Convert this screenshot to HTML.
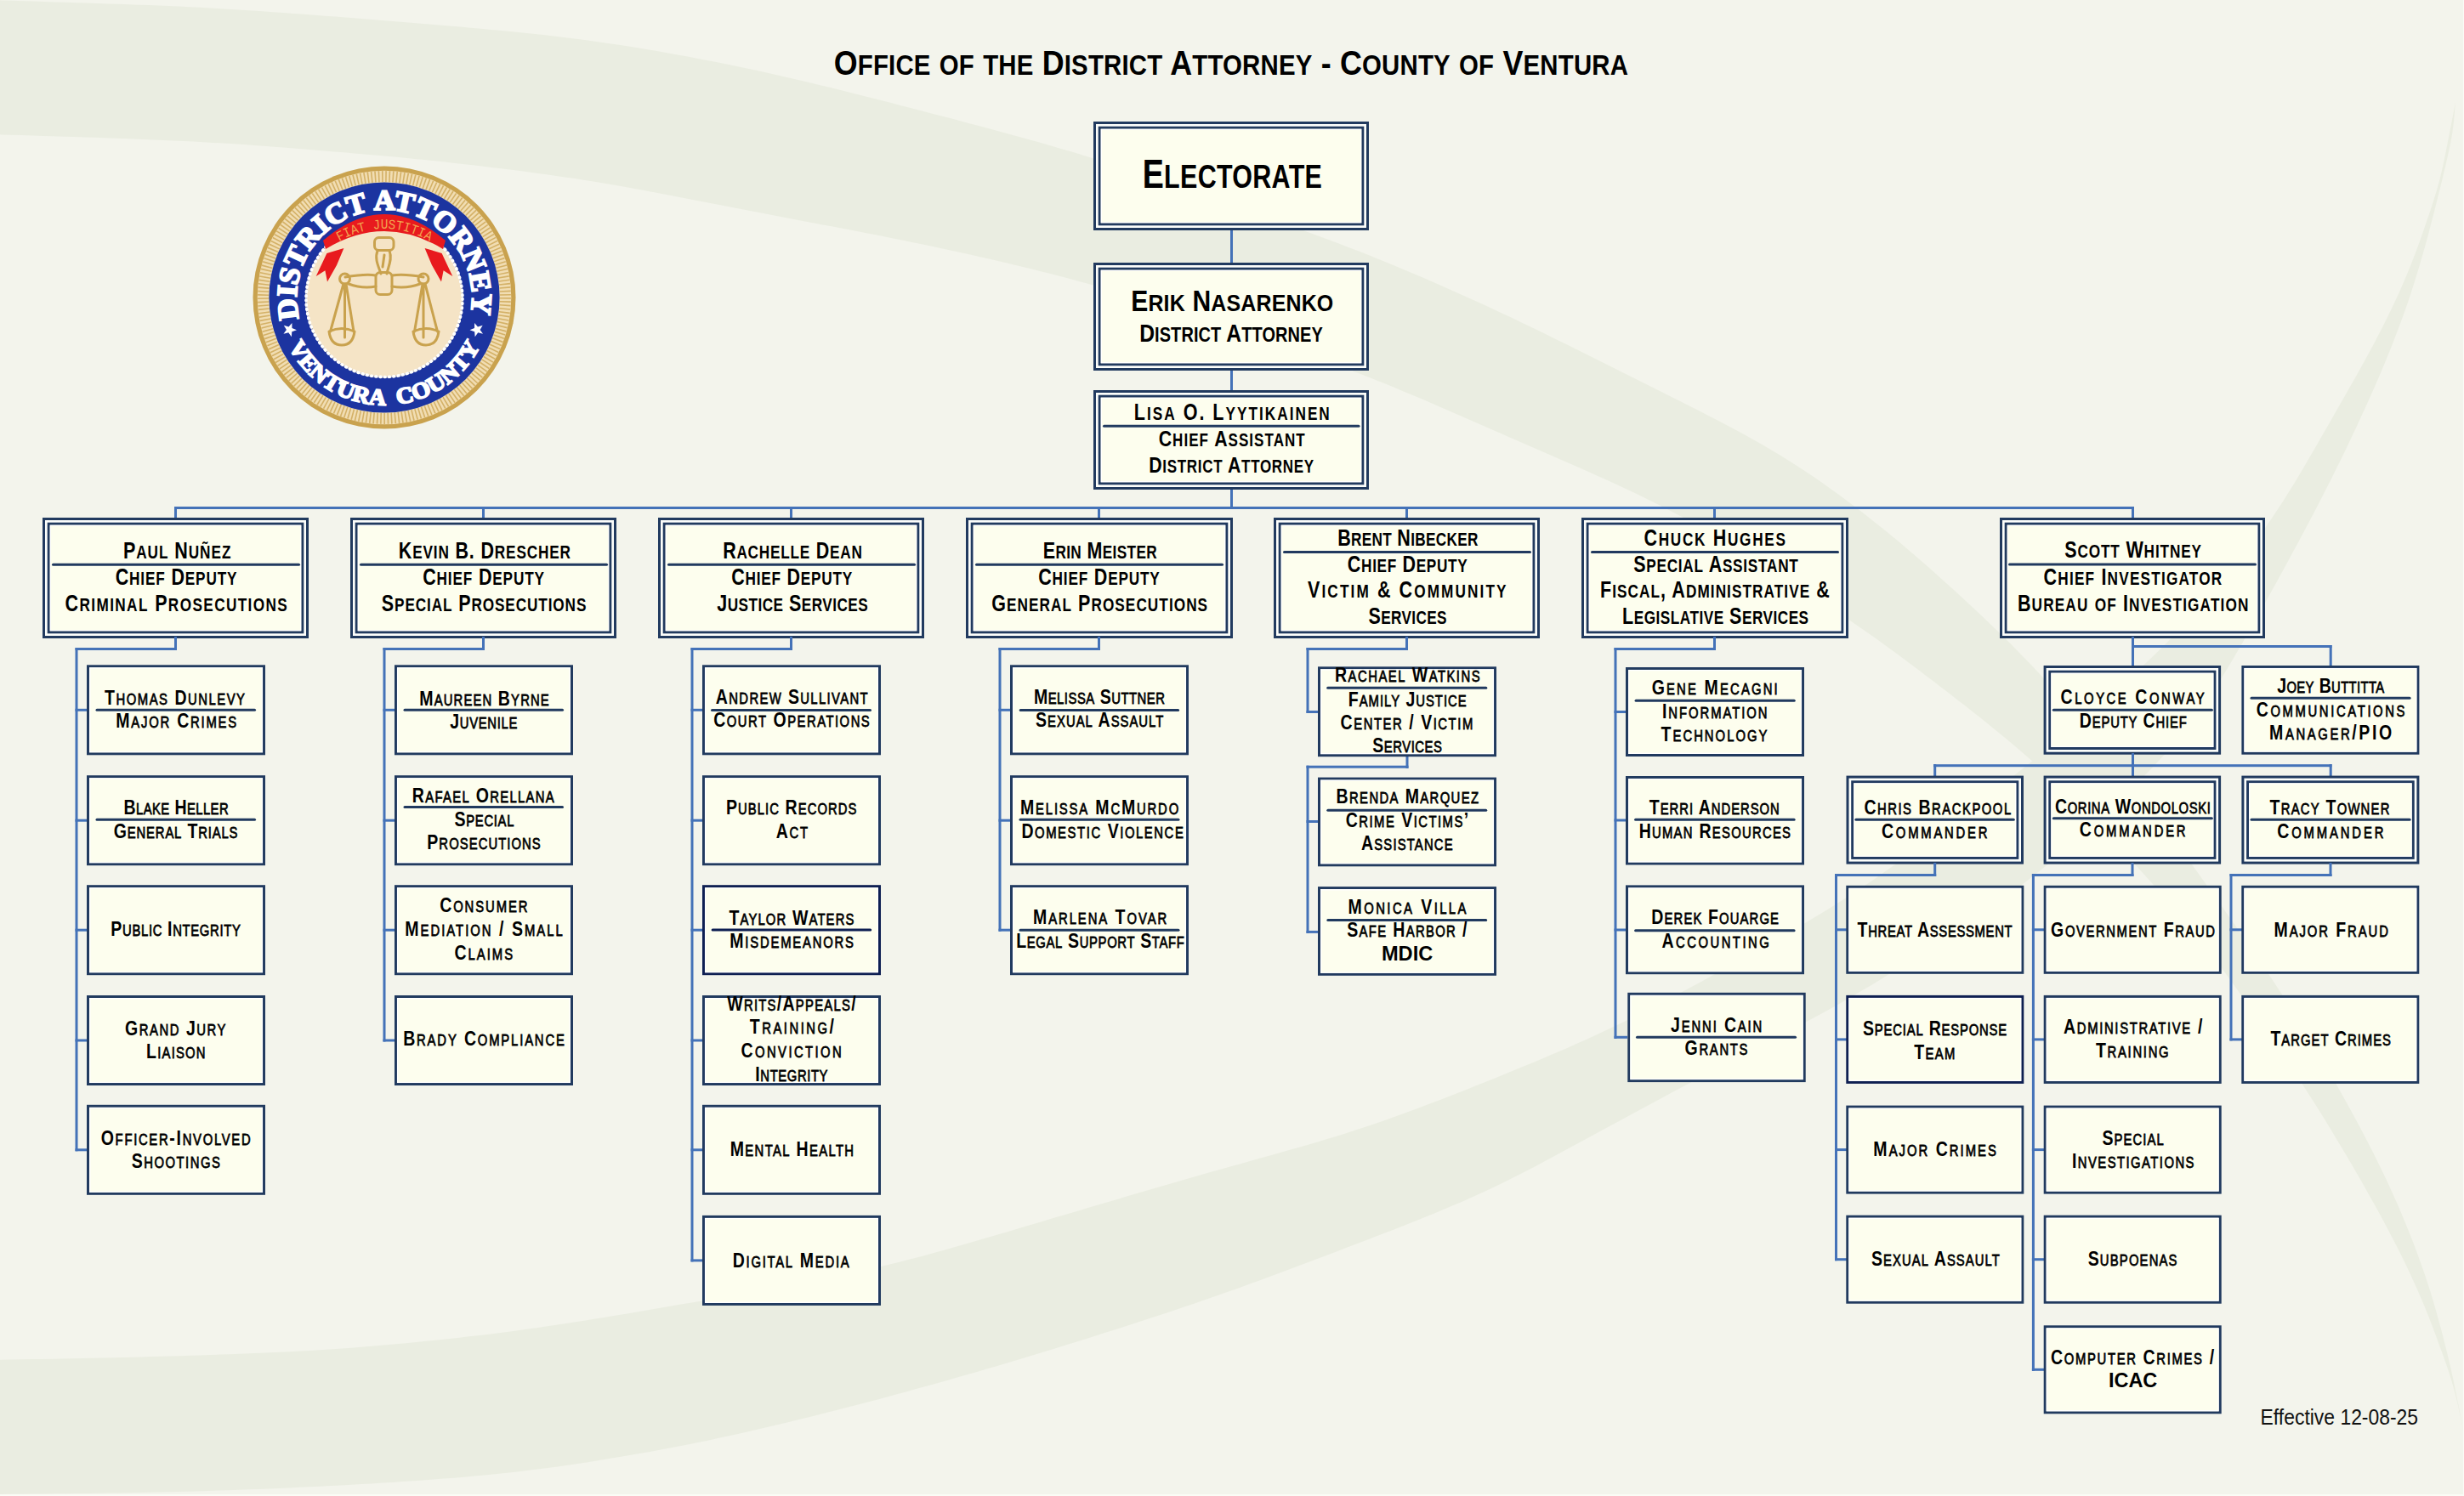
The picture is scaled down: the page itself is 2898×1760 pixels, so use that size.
<!DOCTYPE html>
<html><head><meta charset="utf-8"><title>Office of the District Attorney - County of Ventura</title>
<style>
html,body{margin:0;padding:0;background:#F3F4EC;overflow:hidden}
svg{display:block}
text{font-family:"Liberation Sans",sans-serif}
text.serif{font-family:"Liberation Serif",serif}
text.mono{font-family:"Liberation Mono",monospace}
</style></head><body>
<svg width="2898" height="1760" viewBox="0 0 2898 1760">
<rect x="0" y="0" width="2898" height="1760" fill="#F3F4EC"/>
<path d="M-10.0,0.0 L2.3,0.4 L14.7,0.8 L27.3,1.2 L39.8,1.6 L52.4,2.0 L65.0,2.4 L77.6,2.8 L90.2,3.2 L102.8,3.6 L115.4,4.0 L128.0,4.4 L139.8,4.8 L151.2,5.2 L162.9,5.7 L174.7,6.1 L186.7,6.6 L198.8,7.1 L211.0,7.6 L223.2,8.2 L235.4,8.8 L247.6,9.5 L259.9,10.2 L272.1,10.9 L284.3,11.7 L296.6,12.5 L308.8,13.3 L321.1,14.2 L333.3,15.0 L345.6,15.9 L357.8,16.8 L370.1,17.7 L382.3,18.7 L394.5,19.6 L406.8,20.5 L419.0,21.5 L431.2,22.5 L443.5,23.4 L455.7,24.4 L468.0,25.4 L480.2,26.4 L492.4,27.4 L504.7,28.4 L516.9,29.5 L529.1,30.5 L541.3,31.6 L553.6,32.7 L565.8,33.8 L578.0,35.0 L590.2,36.1 L602.4,37.3 L614.7,38.5 L626.9,39.8 L639.1,41.1 L651.3,42.5 L663.4,43.9 L675.6,45.4 L687.8,47.0 L699.9,48.7 L712.1,50.4 L724.2,52.2 L736.3,54.1 L748.4,56.0 L760.5,58.1 L772.6,60.1 L784.7,62.2 L796.8,64.4 L808.8,66.6 L820.9,68.9 L832.9,71.2 L845.0,73.6 L857.0,76.0 L869.0,78.5 L881.0,81.0 L893.0,83.6 L905.0,86.2 L917.0,88.9 L928.9,91.7 L940.9,94.5 L952.8,97.3 L964.7,100.2 L976.7,103.1 L988.6,106.1 L1000.5,109.1 L1012.4,112.1 L1024.3,115.1 L1036.2,118.1 L1048.1,121.1 L1060.0,124.2 L1071.9,127.2 L1083.7,130.3 L1095.6,133.4 L1107.5,136.5 L1119.4,139.6 L1131.2,142.8 L1143.1,145.9 L1155.0,149.1 L1166.8,152.2 L1178.7,155.4 L1190.5,158.7 L1202.4,161.9 L1214.2,165.2 L1226.0,168.5 L1237.8,171.9 L1249.6,175.4 L1261.3,178.8 L1273.1,182.4 L1284.8,186.0 L1296.5,189.7 L1308.2,193.4 L1319.9,197.2 L1331.5,201.0 L1343.2,204.9 L1354.8,208.8 L1366.4,212.7 L1378.0,216.7 L1389.6,220.7 L1401.2,224.7 L1412.8,228.7 L1424.4,232.8 L1436.0,236.8 L1447.6,240.9 L1459.2,244.9 L1470.8,249.0 L1482.3,253.0 L1493.9,257.1 L1505.5,261.2 L1517.1,265.3 L1528.6,269.5 L1540.1,273.7 L1551.7,277.9 L1563.2,282.2 L1574.6,286.5 L1586.1,290.9 L1597.5,295.3 L1608.9,299.8 L1620.3,304.4 L1631.7,309.0 L1643.0,313.7 L1654.3,318.5 L1665.6,323.2 L1676.9,328.1 L1688.2,333.0 L1699.4,337.9 L1710.6,342.9 L1721.8,347.9 L1733.0,353.0 L1744.2,358.1 L1755.3,363.2 L1766.4,368.4 L1777.5,373.6 L1788.6,378.9 L1799.7,384.2 L1810.7,389.6 L1821.7,395.0 L1832.7,400.4 L1843.7,405.8 L1854.7,411.3 L1865.7,416.7 L1876.7,422.2 L1887.7,427.7 L1898.7,433.2 L1909.6,438.7 L1920.6,444.2 L1931.6,449.7 L1942.6,455.2 L1953.6,460.7 L1964.5,466.2 L1975.5,471.7 L1986.4,477.2 L1997.4,482.8 L2008.3,488.4 L2019.2,494.0 L2030.0,499.7 L2040.9,505.4 L2051.6,511.3 L2062.3,517.2 L2072.9,523.3 L2083.5,529.4 L2094.0,535.7 L2104.3,542.2 L2114.6,548.8 L2124.9,555.5 L2135.0,562.3 L2145.0,569.3 L2155.0,576.4 L2164.9,583.6 L2174.7,590.9 L2184.5,598.3 L2194.2,605.8 L2203.8,613.4 L2213.4,621.0 L2222.9,628.8 L2232.4,636.6 L2241.7,644.4 L2251.1,652.4 L2260.3,660.4 L2269.6,668.5 L2278.7,676.7 L2287.8,684.9 L2296.9,693.1 L2306.0,701.4 L2315.0,709.7 L2323.9,718.1 L2332.8,726.5 L2341.7,735.0 L2350.5,743.5 L2359.3,752.1 L2368.0,760.7 L2376.5,769.5 L2385.1,778.3 L2393.5,787.1 L2401.8,796.1 L2410.0,805.2 L2418.1,814.3 L2426.2,823.6 L2434.1,832.9 L2442.0,842.3 L2449.8,851.7 L2457.6,861.2 L2465.3,870.7 L2473.0,880.3 L2480.7,889.9 L2488.3,899.5 L2495.9,909.1 L2503.5,918.8 L2511.0,928.5 L2518.5,938.1 L2526.0,947.9 L2533.5,957.6 L2541.0,967.4 L2548.4,977.1 L2555.7,987.0 L2563.0,996.8 L2570.3,1006.7 L2577.6,1016.6 L2584.8,1026.5 L2591.9,1036.5 L2599.1,1046.5 L2606.2,1056.5 L2613.3,1066.5 L2620.3,1076.5 L2627.4,1086.6 L2634.4,1096.6 L2641.4,1106.7 L2648.4,1116.8 L2655.3,1127.0 L2662.2,1137.1 L2669.0,1147.3 L2675.8,1157.5 L2682.5,1167.8 L2689.2,1178.1 L2695.8,1188.4 L2702.3,1198.8 L2708.7,1209.2 L2715.1,1219.7 L2721.4,1230.2 L2727.7,1240.8 L2733.8,1251.4 L2740.0,1262.0 L2746.1,1272.6 L2752.1,1283.3 L2758.1,1294.0 L2764.0,1304.8 L2769.9,1315.5 L2775.7,1326.3 L2781.4,1337.2 L2787.0,1348.0 L2792.6,1359.0 L2798.0,1369.9 L2803.4,1381.0 L2808.6,1392.0 L2813.7,1403.2 L2818.7,1414.3 L2823.5,1425.6 L2828.3,1436.9 L2832.9,1448.2 L2837.4,1459.6 L2841.7,1471.0 L2845.9,1482.5 L2850.0,1494.0 L2853.9,1505.5 L2857.6,1517.0 L2861.2,1528.5 L2864.5,1540.0 L2867.7,1551.4 L2870.7,1562.6 L2873.6,1573.6 L2876.5,1585.0 L2879.5,1597.2 L2882.4,1609.4 L2885.1,1621.7 L2887.6,1634.1 L2890.1,1646.4 L2892.6,1658.8 L2895.1,1671.1 L2897.6,1683.5 L2900.1,1695.8 L2902.6,1708.0 L2905.0,1720.0 L2905.0,1720.0 L2902.6,1708.4 L2900.2,1696.8 L2897.6,1684.7 L2895.2,1672.8 L2892.6,1660.9 L2890.0,1649.0 L2887.0,1637.2 L2883.7,1625.5 L2880.1,1614.0 L2876.2,1602.5 L2872.1,1591.0 L2868.0,1579.9 L2864.3,1569.7 L2860.4,1559.3 L2856.3,1548.7 L2852.0,1538.0 L2847.5,1527.3 L2842.8,1516.6 L2838.0,1505.9 L2833.1,1495.2 L2828.0,1484.6 L2822.8,1474.0 L2817.5,1463.4 L2812.0,1452.9 L2806.5,1442.4 L2800.9,1432.0 L2795.2,1421.6 L2789.4,1411.2 L2783.6,1400.9 L2777.8,1390.6 L2771.8,1380.3 L2765.9,1370.0 L2759.9,1359.8 L2753.8,1349.6 L2747.7,1339.4 L2741.6,1329.3 L2735.4,1319.1 L2729.2,1309.1 L2722.9,1299.0 L2716.5,1289.0 L2710.1,1279.0 L2703.6,1269.1 L2697.1,1259.2 L2690.5,1249.3 L2683.9,1239.5 L2677.2,1229.7 L2670.5,1219.9 L2663.7,1210.1 L2657.0,1200.4 L2650.2,1190.7 L2643.3,1181.0 L2636.4,1171.3 L2629.5,1161.7 L2622.6,1152.1 L2615.5,1142.5 L2608.5,1133.0 L2601.3,1123.6 L2594.1,1114.2 L2586.8,1104.8 L2579.4,1095.6 L2571.9,1086.4 L2564.4,1077.3 L2556.7,1068.3 L2549.0,1059.3 L2541.2,1050.4 L2533.3,1041.5 L2525.4,1032.7 L2517.4,1023.9 L2509.4,1015.2 L2501.3,1006.5 L2493.3,997.8 L2485.1,989.1 L2477.0,980.5 L2468.8,971.9 L2460.6,963.4 L2452.3,954.9 L2444.0,946.5 L2435.6,938.1 L2427.1,929.8 L2418.6,921.6 L2410.0,913.5 L2401.3,905.5 L2392.5,897.5 L2383.7,889.7 L2374.7,881.9 L2365.7,874.3 L2356.6,866.7 L2347.4,859.2 L2338.2,851.7 L2329.0,844.3 L2319.7,837.0 L2310.3,829.6 L2301.0,822.4 L2291.6,815.1 L2282.2,807.9 L2272.8,800.6 L2263.3,793.5 L2253.9,786.3 L2244.4,779.2 L2234.9,772.1 L2225.3,765.1 L2215.7,758.1 L2206.1,751.1 L2196.4,744.3 L2186.7,737.5 L2176.9,730.8 L2167.1,724.1 L2157.3,717.5 L2147.4,710.9 L2137.5,704.5 L2127.5,698.0 L2117.5,691.6 L2107.5,685.2 L2097.5,678.9 L2087.4,672.6 L2077.3,666.3 L2067.3,660.1 L2057.1,653.9 L2047.0,647.7 L2036.8,641.6 L2026.7,635.6 L2016.4,629.6 L2006.2,623.7 L1995.9,617.8 L1985.5,612.1 L1975.1,606.4 L1964.6,600.9 L1954.1,595.5 L1943.5,590.2 L1932.9,584.9 L1922.2,579.8 L1911.5,574.7 L1900.8,569.8 L1890.0,564.8 L1879.2,560.0 L1868.3,555.1 L1857.5,550.3 L1846.6,545.6 L1835.7,540.8 L1824.9,536.0 L1814.0,531.3 L1803.1,526.5 L1792.2,521.8 L1781.4,517.0 L1770.5,512.3 L1759.6,507.5 L1748.7,502.8 L1737.9,498.0 L1727.0,493.2 L1716.1,488.5 L1705.2,483.7 L1694.3,479.0 L1683.5,474.3 L1672.6,469.6 L1661.6,465.0 L1650.7,460.4 L1639.7,455.8 L1628.8,451.3 L1617.8,446.9 L1606.7,442.6 L1595.7,438.3 L1584.6,434.1 L1573.5,429.9 L1562.3,425.9 L1551.2,421.9 L1540.0,417.9 L1528.8,414.0 L1517.6,410.2 L1506.3,406.3 L1495.1,402.5 L1483.8,398.8 L1472.6,395.0 L1461.3,391.3 L1450.0,387.5 L1438.8,383.8 L1427.5,380.1 L1416.2,376.4 L1404.9,372.7 L1393.7,369.0 L1382.4,365.3 L1371.1,361.7 L1359.8,358.0 L1348.5,354.5 L1337.2,350.9 L1325.8,347.4 L1314.5,344.0 L1303.1,340.6 L1291.7,337.3 L1280.3,334.0 L1268.9,330.9 L1257.4,327.8 L1246.0,324.7 L1234.5,321.8 L1223.0,318.9 L1211.5,316.0 L1199.9,313.2 L1188.4,310.5 L1176.8,307.7 L1165.3,305.1 L1153.7,302.4 L1142.1,299.8 L1130.6,297.2 L1119.0,294.7 L1107.4,292.2 L1095.8,289.7 L1084.1,287.3 L1072.5,284.9 L1060.9,282.5 L1049.2,280.2 L1037.6,277.8 L1026.0,275.6 L1014.3,273.3 L1002.6,271.1 L991.0,268.8 L979.3,266.6 L967.7,264.4 L956.0,262.2 L944.3,260.0 L932.7,257.8 L921.0,255.6 L909.4,253.3 L897.7,251.1 L886.0,248.8 L874.4,246.6 L862.7,244.3 L851.1,242.1 L839.4,239.8 L827.8,237.5 L816.1,235.2 L804.5,233.0 L792.8,230.7 L781.2,228.5 L769.5,226.3 L757.8,224.1 L746.2,221.9 L734.5,219.8 L722.8,217.8 L711.1,215.8 L699.4,213.8 L687.7,212.0 L676.0,210.1 L664.3,208.4 L652.5,206.7 L640.8,205.0 L629.0,203.4 L617.2,201.8 L605.5,200.3 L593.7,198.8 L581.9,197.4 L570.1,195.9 L558.4,194.6 L546.6,193.2 L534.8,191.9 L523.0,190.6 L511.2,189.3 L499.4,188.1 L487.6,186.9 L475.7,185.7 L463.9,184.6 L452.1,183.5 L440.3,182.4 L428.5,181.4 L416.6,180.4 L404.8,179.3 L393.0,178.4 L381.2,177.4 L369.3,176.4 L357.5,175.5 L345.7,174.5 L333.8,173.6 L322.0,172.7 L310.2,171.8 L298.3,170.9 L286.5,170.1 L274.6,169.3 L262.8,168.6 L251.0,167.9 L239.1,167.2 L227.3,166.5 L215.5,165.9 L203.7,165.4 L192.0,164.9 L180.4,164.4 L168.8,163.9 L157.5,163.5 L146.3,163.1 L135.4,162.7 L123.5,162.3 L111.3,161.8 L99.1,161.5 L86.9,161.1 L74.7,160.7 L62.5,160.3 L50.4,159.9 L38.2,159.5 L26.0,159.1 L13.9,158.8 L1.9,158.4 L-10.0,158.0 Z" fill="#EAEDE1"/>
<path d="M-10.0,1600.0 L1.7,1599.8 L13.5,1599.6 L25.5,1599.3 L37.4,1599.1 L49.4,1598.9 L61.4,1598.7 L73.4,1598.4 L85.4,1598.2 L97.4,1598.0 L109.4,1597.7 L121.4,1597.5 L133.4,1597.2 L144.1,1597.0 L155.0,1596.7 L166.2,1596.4 L177.5,1596.1 L188.9,1595.8 L200.5,1595.5 L212.0,1595.2 L223.7,1594.8 L235.3,1594.4 L246.9,1594.0 L258.6,1593.6 L270.3,1593.2 L281.9,1592.7 L293.6,1592.3 L305.3,1591.8 L316.9,1591.3 L328.6,1590.7 L340.3,1590.2 L351.9,1589.6 L363.6,1588.9 L375.3,1588.2 L386.9,1587.5 L398.6,1586.7 L410.2,1585.9 L421.9,1585.0 L433.5,1584.1 L445.1,1583.1 L456.8,1582.1 L468.4,1581.1 L480.0,1580.0 L491.6,1578.8 L503.3,1577.6 L514.9,1576.4 L526.5,1575.2 L538.1,1573.9 L549.7,1572.6 L561.3,1571.3 L572.9,1569.9 L584.5,1568.4 L596.1,1566.9 L607.6,1565.4 L619.2,1563.8 L630.8,1562.2 L642.3,1560.5 L653.9,1558.8 L665.4,1557.0 L677.0,1555.2 L688.5,1553.4 L700.0,1551.5 L711.5,1549.7 L723.1,1547.8 L734.6,1545.9 L746.1,1543.9 L757.6,1542.0 L769.2,1540.0 L780.7,1538.1 L792.2,1536.1 L803.7,1534.1 L815.2,1532.2 L826.7,1530.2 L838.2,1528.2 L849.7,1526.2 L861.2,1524.1 L872.7,1522.1 L884.2,1520.1 L895.7,1518.0 L907.2,1515.9 L918.7,1513.9 L930.2,1511.8 L941.7,1509.6 L953.2,1507.5 L964.6,1505.3 L976.1,1503.0 L987.5,1500.7 L998.9,1498.3 L1010.3,1495.8 L1021.7,1493.3 L1033.1,1490.7 L1044.4,1488.0 L1055.8,1485.2 L1067.1,1482.3 L1078.4,1479.4 L1089.6,1476.4 L1100.9,1473.3 L1112.1,1470.2 L1123.4,1467.0 L1134.6,1463.8 L1145.8,1460.5 L1157.0,1457.3 L1168.2,1454.0 L1179.4,1450.7 L1190.7,1447.4 L1201.9,1444.1 L1213.1,1440.8 L1224.3,1437.4 L1235.5,1434.1 L1246.7,1430.8 L1257.9,1427.5 L1269.1,1424.2 L1280.3,1420.8 L1291.5,1417.5 L1302.7,1414.2 L1313.9,1410.9 L1325.1,1407.6 L1336.3,1404.3 L1347.5,1401.0 L1358.7,1397.7 L1369.9,1394.4 L1381.1,1391.2 L1392.3,1387.9 L1403.6,1384.7 L1414.8,1381.5 L1426.0,1378.3 L1437.3,1375.2 L1448.5,1372.0 L1459.8,1368.9 L1471.0,1365.7 L1482.3,1362.6 L1493.5,1359.5 L1504.8,1356.3 L1516.0,1353.1 L1527.2,1349.9 L1538.5,1346.7 L1549.6,1343.4 L1560.8,1340.1 L1572.0,1336.7 L1583.1,1333.2 L1594.2,1329.6 L1605.3,1326.0 L1616.4,1322.3 L1627.4,1318.4 L1638.4,1314.6 L1649.4,1310.6 L1660.3,1306.6 L1671.2,1302.5 L1682.2,1298.3 L1693.1,1294.2 L1703.9,1289.9 L1714.8,1285.7 L1725.7,1281.4 L1736.5,1277.1 L1747.4,1272.7 L1758.2,1268.4 L1769.0,1264.0 L1779.9,1259.6 L1790.7,1255.1 L1801.4,1250.7 L1812.2,1246.2 L1823.0,1241.6 L1833.7,1237.0 L1844.4,1232.4 L1855.1,1227.6 L1865.7,1222.9 L1876.3,1218.0 L1886.9,1213.1 L1897.5,1208.1 L1908.0,1203.1 L1918.5,1197.9 L1928.9,1192.7 L1939.3,1187.4 L1949.7,1182.1 L1960.0,1176.7 L1970.4,1171.3 L1980.7,1165.8 L1990.9,1160.2 L2001.2,1154.7 L2011.5,1149.1 L2021.7,1143.4 L2031.9,1137.8 L2042.1,1132.1 L2052.3,1126.4 L2062.5,1120.7 L2072.7,1115.0 L2082.8,1109.2 L2093.0,1103.4 L2103.1,1097.6 L2113.2,1091.7 L2123.2,1085.8 L2133.3,1079.8 L2143.2,1073.8 L2153.2,1067.7 L2163.0,1061.5 L2172.9,1055.2 L2182.6,1048.8 L2192.3,1042.4 L2202.0,1035.9 L2211.6,1029.3 L2221.1,1022.6 L2230.7,1015.8 L2240.1,1009.0 L2249.6,1002.1 L2259.0,995.3 L2268.4,988.3 L2277.8,981.4 L2287.1,974.4 L2296.5,967.4 L2305.8,960.4 L2315.1,953.3 L2324.5,946.3 L2333.8,939.2 L2343.1,932.2 L2352.3,925.1 L2361.6,917.9 L2370.8,910.8 L2380.0,903.6 L2389.1,896.3 L2398.3,889.0 L2407.3,881.7 L2416.4,874.3 L2425.4,866.9 L2434.3,859.4 L2443.3,851.9 L2452.1,844.3 L2461.0,836.7 L2469.8,829.0 L2478.6,821.3 L2487.3,813.6 L2496.0,805.8 L2504.6,797.9 L2513.2,790.0 L2521.7,782.1 L2530.2,774.0 L2538.5,765.9 L2546.9,757.8 L2555.1,749.5 L2563.3,741.2 L2571.3,732.8 L2579.3,724.3 L2587.2,715.8 L2595.0,707.1 L2602.7,698.4 L2610.4,689.6 L2617.9,680.7 L2625.4,671.8 L2632.7,662.7 L2639.9,653.6 L2647.0,644.4 L2653.9,635.1 L2660.8,625.7 L2667.4,616.2 L2674.0,606.6 L2680.4,596.9 L2686.7,587.2 L2692.9,577.3 L2699.0,567.4 L2705.0,557.4 L2710.9,547.4 L2716.8,537.3 L2722.7,527.2 L2728.5,517.1 L2734.3,507.0 L2740.1,496.9 L2745.9,486.8 L2751.7,476.6 L2757.5,466.5 L2763.2,456.3 L2769.0,446.2 L2774.7,436.0 L2780.4,425.8 L2786.0,415.6 L2791.5,405.3 L2796.9,395.0 L2802.2,384.7 L2807.4,374.3 L2812.5,363.8 L2817.5,353.3 L2822.3,342.7 L2826.9,332.2 L2831.4,321.5 L2835.7,310.9 L2839.9,300.3 L2843.8,289.8 L2847.6,279.3 L2851.1,269.0 L2854.5,258.9 L2858.4,247.7 L2862.1,236.3 L2865.6,224.9 L2868.8,213.4 L2871.7,201.8 L2874.3,190.1 L2876.7,178.3 L2879.0,166.6 L2881.3,154.8 L2883.6,142.9 L2885.8,131.5 L2888.0,120.0 L2888.0,120.0 L2887.0,132.1 L2885.9,144.1 L2884.3,156.5 L2882.1,168.7 L2879.5,180.8 L2876.7,192.9 L2873.9,205.0 L2871.0,217.0 L2868.0,229.1 L2865.0,241.1 L2861.9,253.2 L2858.9,264.6 L2856.1,275.4 L2853.1,286.4 L2850.0,297.6 L2846.7,308.9 L2843.3,320.3 L2839.8,331.7 L2836.2,343.1 L2832.4,354.5 L2828.4,365.9 L2824.3,377.2 L2820.1,388.5 L2815.8,399.8 L2811.4,411.0 L2806.8,422.2 L2802.2,433.4 L2797.5,444.5 L2792.7,455.6 L2787.8,466.6 L2782.9,477.6 L2777.8,488.6 L2772.8,499.6 L2767.6,510.5 L2762.4,521.5 L2757.2,532.4 L2751.9,543.2 L2746.5,554.1 L2741.1,564.9 L2735.6,575.7 L2730.1,586.4 L2724.6,597.2 L2719.0,607.9 L2713.4,618.6 L2707.7,629.3 L2702.0,639.9 L2696.2,650.6 L2690.5,661.2 L2684.7,671.8 L2678.9,682.4 L2673.0,693.0 L2667.2,703.6 L2661.3,714.2 L2655.4,724.7 L2649.4,735.2 L2643.5,745.7 L2637.5,756.2 L2631.4,766.7 L2625.3,777.1 L2619.1,787.4 L2612.8,797.6 L2606.4,807.8 L2599.8,817.8 L2593.1,827.8 L2586.2,837.5 L2579.1,847.2 L2571.8,856.7 L2564.4,866.0 L2556.7,875.2 L2548.8,884.2 L2540.8,893.1 L2532.6,901.9 L2524.2,910.5 L2515.8,919.1 L2507.3,927.6 L2498.6,936.0 L2489.9,944.4 L2481.2,952.7 L2472.3,960.9 L2463.5,969.1 L2454.5,977.2 L2445.6,985.3 L2436.5,993.3 L2427.4,1001.1 L2418.2,1008.9 L2408.9,1016.6 L2399.5,1024.2 L2390.0,1031.6 L2380.5,1039.0 L2370.8,1046.2 L2361.1,1053.3 L2351.3,1060.4 L2341.5,1067.3 L2331.5,1074.2 L2321.6,1081.1 L2311.6,1087.8 L2301.5,1094.6 L2291.5,1101.3 L2281.4,1107.9 L2271.3,1114.5 L2261.1,1121.1 L2251.0,1127.7 L2240.8,1134.2 L2230.6,1140.7 L2220.3,1147.1 L2210.0,1153.4 L2199.7,1159.7 L2189.3,1165.8 L2178.9,1171.9 L2168.4,1178.0 L2157.9,1183.9 L2147.4,1189.8 L2136.8,1195.6 L2126.1,1201.3 L2115.5,1207.0 L2104.8,1212.6 L2094.1,1218.2 L2083.3,1223.8 L2072.6,1229.4 L2061.9,1235.0 L2051.1,1240.5 L2040.4,1246.1 L2029.7,1251.7 L2019.0,1257.4 L2008.3,1263.0 L1997.6,1268.7 L1986.9,1274.4 L1976.3,1280.1 L1965.6,1285.8 L1955.0,1291.5 L1944.3,1297.2 L1933.7,1303.0 L1923.0,1308.7 L1912.4,1314.5 L1901.8,1320.2 L1891.1,1326.0 L1880.5,1331.7 L1869.9,1337.5 L1859.3,1343.3 L1848.6,1349.0 L1838.0,1354.8 L1827.4,1360.5 L1816.7,1366.2 L1806.1,1371.9 L1795.4,1377.5 L1784.6,1383.0 L1773.8,1388.4 L1763.0,1393.7 L1752.1,1398.9 L1741.2,1404.0 L1730.2,1409.0 L1719.2,1413.9 L1708.1,1418.6 L1697.0,1423.3 L1685.8,1428.0 L1674.6,1432.5 L1663.4,1437.0 L1652.2,1441.5 L1640.9,1445.9 L1629.7,1450.3 L1618.4,1454.6 L1607.1,1459.0 L1595.8,1463.3 L1584.5,1467.6 L1573.2,1472.0 L1561.9,1476.3 L1550.6,1480.5 L1539.3,1484.8 L1527.9,1489.1 L1516.6,1493.3 L1505.3,1497.5 L1493.9,1501.8 L1482.6,1505.9 L1471.2,1510.1 L1459.9,1514.2 L1448.5,1518.3 L1437.1,1522.3 L1425.7,1526.3 L1414.2,1530.3 L1402.8,1534.2 L1391.3,1538.0 L1379.9,1541.9 L1368.4,1545.7 L1356.9,1549.5 L1345.4,1553.2 L1333.9,1557.0 L1322.4,1560.7 L1310.9,1564.4 L1299.4,1568.1 L1287.8,1571.7 L1276.3,1575.4 L1264.8,1579.0 L1253.2,1582.6 L1241.7,1586.2 L1230.1,1589.8 L1218.5,1593.3 L1207.0,1596.8 L1195.4,1600.3 L1183.8,1603.8 L1172.2,1607.2 L1160.6,1610.6 L1149.0,1613.9 L1137.3,1617.3 L1125.7,1620.6 L1114.1,1623.9 L1102.4,1627.2 L1090.8,1630.4 L1079.1,1633.6 L1067.4,1636.9 L1055.8,1640.0 L1044.1,1643.2 L1032.4,1646.4 L1020.7,1649.5 L1009.0,1652.5 L997.3,1655.6 L985.6,1658.6 L973.9,1661.6 L962.2,1664.5 L950.4,1667.4 L938.7,1670.3 L926.9,1673.2 L915.2,1676.0 L903.4,1678.8 L891.6,1681.6 L879.9,1684.3 L868.1,1686.9 L856.3,1689.6 L844.4,1692.1 L832.6,1694.7 L820.8,1697.1 L808.9,1699.5 L797.1,1701.8 L785.2,1704.1 L773.3,1706.3 L761.4,1708.5 L749.5,1710.6 L737.6,1712.6 L725.7,1714.6 L713.7,1716.6 L701.8,1718.5 L689.9,1720.4 L677.9,1722.2 L665.9,1724.0 L654.0,1725.7 L642.0,1727.3 L630.0,1728.8 L618.0,1730.3 L606.0,1731.7 L594.0,1733.1 L582.0,1734.3 L570.0,1735.5 L557.9,1736.6 L545.9,1737.7 L533.8,1738.7 L521.8,1739.6 L509.7,1740.6 L497.7,1741.4 L485.6,1742.3 L473.5,1743.1 L461.5,1743.9 L449.4,1744.6 L437.3,1745.4 L425.2,1746.1 L413.2,1746.8 L401.1,1747.4 L389.0,1748.1 L376.9,1748.7 L364.9,1749.3 L352.8,1749.8 L340.7,1750.4 L328.6,1750.9 L316.5,1751.4 L304.4,1751.9 L292.3,1752.3 L280.3,1752.8 L268.2,1753.2 L256.1,1753.6 L244.0,1754.0 L231.9,1754.4 L219.9,1754.7 L207.9,1755.0 L195.9,1755.3 L184.0,1755.6 L172.2,1755.8 L160.6,1756.1 L149.1,1756.2 L137.9,1756.4 L126.1,1756.6 L113.7,1756.8 L101.2,1756.9 L88.8,1757.1 L76.4,1757.2 L64.0,1757.3 L51.5,1757.4 L39.1,1757.5 L26.7,1757.7 L14.4,1757.8 L2.1,1757.9 L-10.0,1758.0 Z" fill="#EAEDE1"/>
<rect x="2897" y="0" width="1" height="1760" fill="#FBFCF6"/>
<rect x="0" y="1758" width="2898" height="2" fill="#FBFCF6"/>
<text transform="translate(1447.8,87.5) scale(0.880,1)" text-anchor="middle" textLength="1061.7" lengthAdjust="spacing" font-weight="bold" fill="#000"><tspan font-size="40.70">O</tspan><tspan font-size="33.37">FFICE</tspan><tspan font-size="40.70"> </tspan><tspan font-size="33.37">OF</tspan><tspan font-size="40.70"> </tspan><tspan font-size="33.37">THE</tspan><tspan font-size="40.70"> D</tspan><tspan font-size="33.37">ISTRICT</tspan><tspan font-size="40.70"> A</tspan><tspan font-size="33.37">TTORNEY</tspan><tspan font-size="40.70"> - C</tspan><tspan font-size="33.37">OUNTY</tspan><tspan font-size="40.70"> </tspan><tspan font-size="33.37">OF</tspan><tspan font-size="40.70"> V</tspan><tspan font-size="33.37">ENTURA</tspan></text>
<rect x="1447.0" y="270.0" width="3.0" height="40.0" fill="#4472B8"/>
<rect x="1447.0" y="435.0" width="3.0" height="25.0" fill="#4472B8"/>
<rect x="1447.0" y="575.0" width="3.0" height="23.0" fill="#4472B8"/>
<rect x="205.0" y="596.0" width="2305.0" height="3.0" fill="#4472B8"/>
<rect x="1287.5" y="144.5" width="321.0" height="125.0" fill="#FCFEFB" stroke="#213A5F" stroke-width="3"/>
<rect x="1293.2" y="150.2" width="309.6" height="113.6" fill="#FDFEEE" stroke="#213A5F" stroke-width="3"/>
<rect x="1295.3" y="152.3" width="305.4" height="109.4" fill="none" stroke="#FFFFFF" stroke-width="1.2"/>
<text transform="translate(1449.3,220.9) scale(0.791,1)" text-anchor="middle" textLength="267.0" lengthAdjust="spacing" font-weight="bold" fill="#000"><tspan font-size="47.53">E</tspan><tspan font-size="38.50">LECTORATE</tspan></text>
<rect x="1287.5" y="310.5" width="321.0" height="124.0" fill="#FCFEFB" stroke="#213A5F" stroke-width="3"/>
<rect x="1293.2" y="316.2" width="309.6" height="112.6" fill="#FDFEEE" stroke="#213A5F" stroke-width="3"/>
<rect x="1295.3" y="318.3" width="305.4" height="108.4" fill="none" stroke="#FFFFFF" stroke-width="1.2"/>
<text transform="translate(1449.2,366.2) scale(0.880,1)" text-anchor="middle" textLength="270.5" lengthAdjust="spacing" font-weight="bold" fill="#000"><tspan font-size="34.16">E</tspan><tspan font-size="28.35">RIK</tspan><tspan font-size="34.16"> N</tspan><tspan font-size="28.35">ASARENKO</tspan></text>
<text transform="translate(1448.0,401.9) scale(0.820,1)" text-anchor="middle" textLength="263.0" lengthAdjust="spacing" font-weight="bold" fill="#000"><tspan font-size="30.09">D</tspan><tspan font-size="24.37">ISTRICT</tspan><tspan font-size="30.09"> A</tspan><tspan font-size="24.37">TTORNEY</tspan></text>
<rect x="1287.5" y="460.5" width="321.0" height="114.0" fill="#FCFEFB" stroke="#213A5F" stroke-width="3"/>
<rect x="1293.2" y="466.2" width="309.6" height="102.6" fill="#FDFEEE" stroke="#213A5F" stroke-width="3"/>
<rect x="1295.3" y="468.3" width="305.4" height="98.4" fill="none" stroke="#FFFFFF" stroke-width="1.2"/>
<text transform="translate(1448.8,494.0) scale(0.800,1)" text-anchor="middle" textLength="287.5" lengthAdjust="spacing" font-weight="bold" fill="#000"><tspan font-size="26.89">L</tspan><tspan font-size="21.51">ISA</tspan><tspan font-size="26.89"> O. L</tspan><tspan font-size="21.51">YYTIKAINEN</tspan></text>
<line x1="1298.5" y1="501.2" x2="1598.0" y2="501.2" stroke="#213A5F" stroke-width="3" stroke-linecap="round"/>
<text transform="translate(1448.7,524.6) scale(0.800,1)" text-anchor="middle" textLength="215.0" lengthAdjust="spacing" font-weight="bold" fill="#000"><tspan font-size="26.60">C</tspan><tspan font-size="21.28">HIEF</tspan><tspan font-size="26.60"> A</tspan><tspan font-size="21.28">SSISTANT</tspan></text>
<text transform="translate(1448.2,556.1) scale(0.800,1)" text-anchor="middle" textLength="242.5" lengthAdjust="spacing" font-weight="bold" fill="#000"><tspan font-size="26.60">D</tspan><tspan font-size="21.28">ISTRICT</tspan><tspan font-size="26.60"> A</tspan><tspan font-size="21.28">TTORNEY</tspan></text>
<rect x="205.0" y="596.0" width="3.0" height="15.0" fill="#4472B8"/>
<rect x="51.5" y="610.5" width="310.0" height="139.0" fill="#FCFEFB" stroke="#213A5F" stroke-width="3"/>
<rect x="57.2" y="616.2" width="298.6" height="127.6" fill="#FDFEEE" stroke="#213A5F" stroke-width="3"/>
<rect x="59.3" y="618.3" width="294.4" height="123.4" fill="none" stroke="#FFFFFF" stroke-width="1.2"/>
<rect x="205.0" y="749.0" width="3.0" height="16.0" fill="#4472B8"/>
<rect x="88.5" y="762.0" width="119.5" height="3.0" fill="#4472B8"/>
<rect x="567.0" y="596.0" width="3.0" height="15.0" fill="#4472B8"/>
<rect x="413.5" y="610.5" width="310.0" height="139.0" fill="#FCFEFB" stroke="#213A5F" stroke-width="3"/>
<rect x="419.2" y="616.2" width="298.6" height="127.6" fill="#FDFEEE" stroke="#213A5F" stroke-width="3"/>
<rect x="421.3" y="618.3" width="294.4" height="123.4" fill="none" stroke="#FFFFFF" stroke-width="1.2"/>
<rect x="567.0" y="749.0" width="3.0" height="16.0" fill="#4472B8"/>
<rect x="450.5" y="762.0" width="119.5" height="3.0" fill="#4472B8"/>
<rect x="929.0" y="596.0" width="3.0" height="15.0" fill="#4472B8"/>
<rect x="775.5" y="610.5" width="310.0" height="139.0" fill="#FCFEFB" stroke="#213A5F" stroke-width="3"/>
<rect x="781.2" y="616.2" width="298.6" height="127.6" fill="#FDFEEE" stroke="#213A5F" stroke-width="3"/>
<rect x="783.3" y="618.3" width="294.4" height="123.4" fill="none" stroke="#FFFFFF" stroke-width="1.2"/>
<rect x="929.0" y="749.0" width="3.0" height="16.0" fill="#4472B8"/>
<rect x="812.5" y="762.0" width="119.5" height="3.0" fill="#4472B8"/>
<rect x="1291.0" y="596.0" width="3.0" height="15.0" fill="#4472B8"/>
<rect x="1137.5" y="610.5" width="311.0" height="139.0" fill="#FCFEFB" stroke="#213A5F" stroke-width="3"/>
<rect x="1143.2" y="616.2" width="299.6" height="127.6" fill="#FDFEEE" stroke="#213A5F" stroke-width="3"/>
<rect x="1145.3" y="618.3" width="295.4" height="123.4" fill="none" stroke="#FFFFFF" stroke-width="1.2"/>
<rect x="1291.0" y="749.0" width="3.0" height="16.0" fill="#4472B8"/>
<rect x="1174.5" y="762.0" width="119.5" height="3.0" fill="#4472B8"/>
<rect x="1653.0" y="596.0" width="3.0" height="15.0" fill="#4472B8"/>
<rect x="1499.5" y="610.5" width="310.0" height="139.0" fill="#FCFEFB" stroke="#213A5F" stroke-width="3"/>
<rect x="1505.2" y="616.2" width="298.6" height="127.6" fill="#FDFEEE" stroke="#213A5F" stroke-width="3"/>
<rect x="1507.3" y="618.3" width="294.4" height="123.4" fill="none" stroke="#FFFFFF" stroke-width="1.2"/>
<rect x="1653.0" y="749.0" width="3.0" height="16.0" fill="#4472B8"/>
<rect x="1536.5" y="762.0" width="119.5" height="3.0" fill="#4472B8"/>
<rect x="2015.0" y="596.0" width="3.0" height="15.0" fill="#4472B8"/>
<rect x="1861.5" y="610.5" width="311.0" height="139.0" fill="#FCFEFB" stroke="#213A5F" stroke-width="3"/>
<rect x="1867.2" y="616.2" width="299.6" height="127.6" fill="#FDFEEE" stroke="#213A5F" stroke-width="3"/>
<rect x="1869.3" y="618.3" width="295.4" height="123.4" fill="none" stroke="#FFFFFF" stroke-width="1.2"/>
<rect x="2015.0" y="749.0" width="3.0" height="16.0" fill="#4472B8"/>
<rect x="1898.5" y="762.0" width="119.5" height="3.0" fill="#4472B8"/>
<rect x="2507.0" y="596.0" width="3.0" height="15.0" fill="#4472B8"/>
<rect x="2353.5" y="610.5" width="309.0" height="139.0" fill="#FCFEFB" stroke="#213A5F" stroke-width="3"/>
<rect x="2359.2" y="616.2" width="297.6" height="127.6" fill="#FDFEEE" stroke="#213A5F" stroke-width="3"/>
<rect x="2361.3" y="618.3" width="293.4" height="123.4" fill="none" stroke="#FFFFFF" stroke-width="1.2"/>
<text transform="translate(208.2,657.1) scale(0.800,1)" text-anchor="middle" textLength="158.0" lengthAdjust="spacing" font-weight="bold" fill="#000"><tspan font-size="26.89">P</tspan><tspan font-size="21.51">AUL</tspan><tspan font-size="26.89"> N</tspan><tspan font-size="21.51">UÑEZ</tspan></text>
<text transform="translate(207.1,688.0) scale(0.800,1)" text-anchor="middle" textLength="178.5" lengthAdjust="spacing" font-weight="bold" fill="#000"><tspan font-size="26.89">C</tspan><tspan font-size="21.51">HIEF</tspan><tspan font-size="26.89"> D</tspan><tspan font-size="21.51">EPUTY</tspan></text>
<text transform="translate(207.2,718.8) scale(0.800,1)" text-anchor="middle" textLength="326.6" lengthAdjust="spacing" font-weight="bold" fill="#000"><tspan font-size="26.89">C</tspan><tspan font-size="21.51">RIMINAL</tspan><tspan font-size="26.89"> P</tspan><tspan font-size="21.51">ROSECUTIONS</tspan></text>
<line x1="62.5" y1="664.2" x2="351.5" y2="664.2" stroke="#213A5F" stroke-width="3" stroke-linecap="round"/>
<text transform="translate(569.9,657.1) scale(0.800,1)" text-anchor="middle" textLength="252.6" lengthAdjust="spacing" font-weight="bold" fill="#000"><tspan font-size="26.89">K</tspan><tspan font-size="21.51">EVIN</tspan><tspan font-size="26.89"> B. D</tspan><tspan font-size="21.51">RESCHER</tspan></text>
<text transform="translate(568.6,688.0) scale(0.800,1)" text-anchor="middle" textLength="178.5" lengthAdjust="spacing" font-weight="bold" fill="#000"><tspan font-size="26.89">C</tspan><tspan font-size="21.51">HIEF</tspan><tspan font-size="26.89"> D</tspan><tspan font-size="21.51">EPUTY</tspan></text>
<text transform="translate(569.1,718.8) scale(0.800,1)" text-anchor="middle" textLength="300.7" lengthAdjust="spacing" font-weight="bold" fill="#000"><tspan font-size="26.89">S</tspan><tspan font-size="21.51">PECIAL</tspan><tspan font-size="26.89"> P</tspan><tspan font-size="21.51">ROSECUTIONS</tspan></text>
<line x1="424.5" y1="664.2" x2="713.5" y2="664.2" stroke="#213A5F" stroke-width="3" stroke-linecap="round"/>
<text transform="translate(932.0,657.1) scale(0.800,1)" text-anchor="middle" textLength="204.7" lengthAdjust="spacing" font-weight="bold" fill="#000"><tspan font-size="26.89">R</tspan><tspan font-size="21.51">ACHELLE</tspan><tspan font-size="26.89"> D</tspan><tspan font-size="21.51">EAN</tspan></text>
<text transform="translate(931.2,688.0) scale(0.800,1)" text-anchor="middle" textLength="177.4" lengthAdjust="spacing" font-weight="bold" fill="#000"><tspan font-size="26.89">C</tspan><tspan font-size="21.51">HIEF</tspan><tspan font-size="26.89"> D</tspan><tspan font-size="21.51">EPUTY</tspan></text>
<text transform="translate(932.0,718.8) scale(0.800,1)" text-anchor="middle" textLength="221.8" lengthAdjust="spacing" font-weight="bold" fill="#000"><tspan font-size="26.89">J</tspan><tspan font-size="21.51">USTICE</tspan><tspan font-size="26.89"> S</tspan><tspan font-size="21.51">ERVICES</tspan></text>
<line x1="786.5" y1="664.2" x2="1075.5" y2="664.2" stroke="#213A5F" stroke-width="3" stroke-linecap="round"/>
<text transform="translate(1293.7,657.1) scale(0.800,1)" text-anchor="middle" textLength="167.4" lengthAdjust="spacing" font-weight="bold" fill="#000"><tspan font-size="26.89">E</tspan><tspan font-size="21.51">RIN</tspan><tspan font-size="26.89"> M</tspan><tspan font-size="21.51">EISTER</tspan></text>
<text transform="translate(1292.5,688.0) scale(0.800,1)" text-anchor="middle" textLength="178.1" lengthAdjust="spacing" font-weight="bold" fill="#000"><tspan font-size="26.89">C</tspan><tspan font-size="21.51">HIEF</tspan><tspan font-size="26.89"> D</tspan><tspan font-size="21.51">EPUTY</tspan></text>
<text transform="translate(1293.2,718.8) scale(0.800,1)" text-anchor="middle" textLength="317.2" lengthAdjust="spacing" font-weight="bold" fill="#000"><tspan font-size="26.89">G</tspan><tspan font-size="21.51">ENERAL</tspan><tspan font-size="26.89"> P</tspan><tspan font-size="21.51">ROSECUTIONS</tspan></text>
<line x1="1148.5" y1="664.2" x2="1437.5" y2="664.2" stroke="#213A5F" stroke-width="3" stroke-linecap="round"/>
<text transform="translate(1655.8,641.7) scale(0.800,1)" text-anchor="middle" textLength="206.6" lengthAdjust="spacing" font-weight="bold" fill="#000"><tspan font-size="26.89">B</tspan><tspan font-size="21.51">RENT</tspan><tspan font-size="26.89"> N</tspan><tspan font-size="21.51">IBECKER</tspan></text>
<text transform="translate(1655.3,672.5) scale(0.800,1)" text-anchor="middle" textLength="176.1" lengthAdjust="spacing" font-weight="bold" fill="#000"><tspan font-size="26.89">C</tspan><tspan font-size="21.51">HIEF</tspan><tspan font-size="26.89"> D</tspan><tspan font-size="21.51">EPUTY</tspan></text>
<text transform="translate(1654.8,703.4) scale(0.800,1)" text-anchor="middle" textLength="291.9" lengthAdjust="spacing" font-weight="bold" fill="#000"><tspan font-size="26.89">V</tspan><tspan font-size="21.51">ICTIM</tspan><tspan font-size="26.89"> &amp; C</tspan><tspan font-size="21.51">OMMUNITY</tspan></text>
<text transform="translate(1655.5,734.2) scale(0.800,1)" text-anchor="middle" textLength="115.0" lengthAdjust="spacing" font-weight="bold" fill="#000"><tspan font-size="26.89">S</tspan><tspan font-size="21.51">ERVICES</tspan></text>
<line x1="1510.5" y1="649.4" x2="1799.5" y2="649.4" stroke="#213A5F" stroke-width="3" stroke-linecap="round"/>
<text transform="translate(2016.7,641.7) scale(0.800,1)" text-anchor="middle" textLength="208.2" lengthAdjust="spacing" font-weight="bold" fill="#000"><tspan font-size="26.89">C</tspan><tspan font-size="21.51">HUCK</tspan><tspan font-size="26.89"> H</tspan><tspan font-size="21.51">UGHES</tspan></text>
<text transform="translate(2018.0,672.5) scale(0.800,1)" text-anchor="middle" textLength="242.1" lengthAdjust="spacing" font-weight="bold" fill="#000"><tspan font-size="26.89">S</tspan><tspan font-size="21.51">PECIAL</tspan><tspan font-size="26.89"> A</tspan><tspan font-size="21.51">SSISTANT</tspan></text>
<text transform="translate(2016.9,703.4) scale(0.800,1)" text-anchor="middle" textLength="337.4" lengthAdjust="spacing" font-weight="bold" fill="#000"><tspan font-size="26.89">F</tspan><tspan font-size="21.51">ISCAL</tspan><tspan font-size="26.89">, A</tspan><tspan font-size="21.51">DMINISTRATIVE</tspan><tspan font-size="26.89"> &amp;</tspan></text>
<text transform="translate(2017.6,734.2) scale(0.800,1)" text-anchor="middle" textLength="273.8" lengthAdjust="spacing" font-weight="bold" fill="#000"><tspan font-size="26.89">L</tspan><tspan font-size="21.51">EGISLATIVE</tspan><tspan font-size="26.89"> S</tspan><tspan font-size="21.51">ERVICES</tspan></text>
<line x1="1872.5" y1="649.4" x2="2161.5" y2="649.4" stroke="#213A5F" stroke-width="3" stroke-linecap="round"/>
<text transform="translate(2508.6,656.2) scale(0.800,1)" text-anchor="middle" textLength="201.0" lengthAdjust="spacing" font-weight="bold" fill="#000"><tspan font-size="26.89">S</tspan><tspan font-size="21.51">COTT</tspan><tspan font-size="26.89"> W</tspan><tspan font-size="21.51">HITNEY</tspan></text>
<line x1="2363.5" y1="663.9" x2="2652.5" y2="663.9" stroke="#213A5F" stroke-width="3" stroke-linecap="round"/>
<text transform="translate(2508.4,687.6) scale(0.800,1)" text-anchor="middle" textLength="262.1" lengthAdjust="spacing" font-weight="bold" fill="#000"><tspan font-size="26.89">C</tspan><tspan font-size="21.51">HIEF</tspan><tspan font-size="26.89"> I</tspan><tspan font-size="21.51">NVESTIGATOR</tspan></text>
<text transform="translate(2508.7,719.3) scale(0.800,1)" text-anchor="middle" textLength="339.4" lengthAdjust="spacing" font-weight="bold" fill="#000"><tspan font-size="26.89">B</tspan><tspan font-size="21.51">UREAU</tspan><tspan font-size="26.89"> </tspan><tspan font-size="21.51">OF</tspan><tspan font-size="26.89"> I</tspan><tspan font-size="21.51">NVESTIGATION</tspan></text>
<rect x="88.5" y="762.0" width="3.0" height="592.3" fill="#4472B8"/>
<rect x="88.5" y="833.8" width="15.5" height="3.0" fill="#4472B8"/>
<rect x="88.5" y="963.7" width="15.5" height="3.0" fill="#4472B8"/>
<rect x="88.5" y="1092.7" width="15.5" height="3.0" fill="#4472B8"/>
<rect x="88.5" y="1222.5" width="15.5" height="3.0" fill="#4472B8"/>
<rect x="88.5" y="1351.3" width="15.5" height="3.0" fill="#4472B8"/>
<rect x="103.5" y="783.8" width="207.0" height="103.0" fill="#FDFEEE" stroke="#213A5F" stroke-width="3"/>
<rect x="105.7" y="785.9" width="202.7" height="98.7" fill="none" stroke="#FFFFFF" stroke-width="1.3"/>
<text transform="translate(205.5,828.9) scale(0.800,1)" text-anchor="middle" textLength="206.2" lengthAdjust="spacing" font-weight="bold" fill="#000"><tspan font-size="24.42">T</tspan><tspan font-size="18.56" font-weight="normal" stroke="#000" stroke-width="0.75">HOMAS</tspan><tspan font-size="24.42"> D</tspan><tspan font-size="18.56" font-weight="normal" stroke="#000" stroke-width="0.75">UNLEVY</tspan></text>
<text transform="translate(207.2,855.9) scale(0.800,1)" text-anchor="middle" textLength="177.4" lengthAdjust="spacing" font-weight="bold" fill="#000"><tspan font-size="24.42">M</tspan><tspan font-size="18.56" font-weight="normal" stroke="#000" stroke-width="0.75">AJOR</tspan><tspan font-size="24.42"> C</tspan><tspan font-size="18.56" font-weight="normal" stroke="#000" stroke-width="0.75">RIMES</tspan></text>
<line x1="114.0" y1="835.3" x2="299.5" y2="835.3" stroke="#213A5F" stroke-width="3" stroke-linecap="round"/>
<rect x="103.5" y="913.7" width="207.0" height="103.0" fill="#FDFEEE" stroke="#213A5F" stroke-width="3"/>
<rect x="105.7" y="915.9" width="202.7" height="98.7" fill="none" stroke="#FFFFFF" stroke-width="1.3"/>
<text transform="translate(207.1,958.0) scale(0.800,1)" text-anchor="middle" textLength="153.8" lengthAdjust="spacing" font-weight="bold" fill="#000"><tspan font-size="24.42">B</tspan><tspan font-size="18.56" font-weight="normal" stroke="#000" stroke-width="0.75">LAKE</tspan><tspan font-size="24.42"> H</tspan><tspan font-size="18.56" font-weight="normal" stroke="#000" stroke-width="0.75">ELLER</tspan></text>
<text transform="translate(206.6,986.0) scale(0.800,1)" text-anchor="middle" textLength="181.9" lengthAdjust="spacing" font-weight="bold" fill="#000"><tspan font-size="24.42">G</tspan><tspan font-size="18.56" font-weight="normal" stroke="#000" stroke-width="0.75">ENERAL</tspan><tspan font-size="24.42"> T</tspan><tspan font-size="18.56" font-weight="normal" stroke="#000" stroke-width="0.75">RIALS</tspan></text>
<line x1="114.0" y1="964.3" x2="299.5" y2="964.3" stroke="#213A5F" stroke-width="3" stroke-linecap="round"/>
<rect x="103.5" y="1042.7" width="207.0" height="103.0" fill="#FDFEEE" stroke="#213A5F" stroke-width="3"/>
<rect x="105.7" y="1044.9" width="202.7" height="98.7" fill="none" stroke="#FFFFFF" stroke-width="1.3"/>
<text transform="translate(206.6,1101.0) scale(0.800,1)" text-anchor="middle" textLength="190.6" lengthAdjust="spacing" font-weight="bold" fill="#000"><tspan font-size="24.42">P</tspan><tspan font-size="18.56" font-weight="normal" stroke="#000" stroke-width="0.75">UBLIC</tspan><tspan font-size="24.42"> I</tspan><tspan font-size="18.56" font-weight="normal" stroke="#000" stroke-width="0.75">NTEGRITY</tspan></text>
<rect x="103.5" y="1172.5" width="207.0" height="103.0" fill="#FDFEEE" stroke="#213A5F" stroke-width="3"/>
<rect x="105.7" y="1174.7" width="202.7" height="98.7" fill="none" stroke="#FFFFFF" stroke-width="1.3"/>
<text transform="translate(206.2,1217.5) scale(0.800,1)" text-anchor="middle" textLength="148.2" lengthAdjust="spacing" font-weight="bold" fill="#000"><tspan font-size="24.42">G</tspan><tspan font-size="18.56" font-weight="normal" stroke="#000" stroke-width="0.75">RAND</tspan><tspan font-size="24.42"> J</tspan><tspan font-size="18.56" font-weight="normal" stroke="#000" stroke-width="0.75">URY</tspan></text>
<text transform="translate(206.8,1244.8) scale(0.800,1)" text-anchor="middle" textLength="86.9" lengthAdjust="spacing" font-weight="bold" fill="#000"><tspan font-size="24.42">L</tspan><tspan font-size="18.56" font-weight="normal" stroke="#000" stroke-width="0.75">IAISON</tspan></text>
<rect x="103.5" y="1301.3" width="207.0" height="103.0" fill="#FDFEEE" stroke="#213A5F" stroke-width="3"/>
<rect x="105.7" y="1303.5" width="202.7" height="98.7" fill="none" stroke="#FFFFFF" stroke-width="1.3"/>
<text transform="translate(206.7,1347.0) scale(0.800,1)" text-anchor="middle" textLength="219.9" lengthAdjust="spacing" font-weight="bold" fill="#000"><tspan font-size="24.42">O</tspan><tspan font-size="18.56" font-weight="normal" stroke="#000" stroke-width="0.75">FFICER</tspan><tspan font-size="24.42">-I</tspan><tspan font-size="18.56" font-weight="normal" stroke="#000" stroke-width="0.75">NVOLVED</tspan></text>
<text transform="translate(206.8,1374.0) scale(0.800,1)" text-anchor="middle" textLength="130.4" lengthAdjust="spacing" font-weight="bold" fill="#000"><tspan font-size="24.42">S</tspan><tspan font-size="18.56" font-weight="normal" stroke="#000" stroke-width="0.75">HOOTINGS</tspan></text>
<rect x="450.5" y="762.0" width="3.0" height="463.5" fill="#4472B8"/>
<rect x="450.5" y="833.8" width="15.5" height="3.0" fill="#4472B8"/>
<rect x="450.5" y="963.7" width="15.5" height="3.0" fill="#4472B8"/>
<rect x="450.5" y="1092.7" width="15.5" height="3.0" fill="#4472B8"/>
<rect x="450.5" y="1222.5" width="15.5" height="3.0" fill="#4472B8"/>
<rect x="465.5" y="783.8" width="207.0" height="103.0" fill="#FDFEEE" stroke="#213A5F" stroke-width="3"/>
<rect x="467.6" y="785.9" width="202.7" height="98.7" fill="none" stroke="#FFFFFF" stroke-width="1.3"/>
<text transform="translate(569.5,829.5) scale(0.800,1)" text-anchor="middle" textLength="190.6" lengthAdjust="spacing" font-weight="bold" fill="#000"><tspan font-size="24.42">M</tspan><tspan font-size="18.56" font-weight="normal" stroke="#000" stroke-width="0.75">AUREEN</tspan><tspan font-size="24.42"> B</tspan><tspan font-size="18.56" font-weight="normal" stroke="#000" stroke-width="0.75">YRNE</tspan></text>
<text transform="translate(568.8,857.0) scale(0.800,1)" text-anchor="middle" textLength="98.9" lengthAdjust="spacing" font-weight="bold" fill="#000"><tspan font-size="24.42">J</tspan><tspan font-size="18.56" font-weight="normal" stroke="#000" stroke-width="0.75">UVENILE</tspan></text>
<line x1="476.0" y1="835.3" x2="661.5" y2="835.3" stroke="#213A5F" stroke-width="3" stroke-linecap="round"/>
<rect x="465.5" y="913.7" width="207.0" height="103.0" fill="#FDFEEE" stroke="#213A5F" stroke-width="3"/>
<rect x="467.6" y="915.9" width="202.7" height="98.7" fill="none" stroke="#FFFFFF" stroke-width="1.3"/>
<text transform="translate(568.3,943.8) scale(0.800,1)" text-anchor="middle" textLength="208.6" lengthAdjust="spacing" font-weight="bold" fill="#000"><tspan font-size="24.42">R</tspan><tspan font-size="18.56" font-weight="normal" stroke="#000" stroke-width="0.75">AFAEL</tspan><tspan font-size="24.42"> O</tspan><tspan font-size="18.56" font-weight="normal" stroke="#000" stroke-width="0.75">RELLANA</tspan></text>
<text transform="translate(569.5,972.0) scale(0.800,1)" text-anchor="middle" textLength="87.4" lengthAdjust="spacing" font-weight="bold" fill="#000"><tspan font-size="24.42">S</tspan><tspan font-size="18.56" font-weight="normal" stroke="#000" stroke-width="0.75">PECIAL</tspan></text>
<text transform="translate(569.0,999.0) scale(0.800,1)" text-anchor="middle" textLength="166.8" lengthAdjust="spacing" font-weight="bold" fill="#000"><tspan font-size="24.42">P</tspan><tspan font-size="18.56" font-weight="normal" stroke="#000" stroke-width="0.75">ROSECUTIONS</tspan></text>
<line x1="476.0" y1="949.4" x2="661.5" y2="949.4" stroke="#213A5F" stroke-width="3" stroke-linecap="round"/>
<rect x="465.5" y="1042.7" width="207.0" height="103.0" fill="#FDFEEE" stroke="#213A5F" stroke-width="3"/>
<rect x="467.6" y="1044.9" width="202.7" height="98.7" fill="none" stroke="#FFFFFF" stroke-width="1.3"/>
<text transform="translate(568.8,1072.8) scale(0.800,1)" text-anchor="middle" textLength="129.2" lengthAdjust="spacing" font-weight="bold" fill="#000"><tspan font-size="24.42">C</tspan><tspan font-size="18.56" font-weight="normal" stroke="#000" stroke-width="0.75">ONSUMER</tspan></text>
<text transform="translate(569.0,1101.0) scale(0.800,1)" text-anchor="middle" textLength="232.0" lengthAdjust="spacing" font-weight="bold" fill="#000"><tspan font-size="24.42">M</tspan><tspan font-size="18.56" font-weight="normal" stroke="#000" stroke-width="0.75">EDIATION</tspan><tspan font-size="24.42"> / S</tspan><tspan font-size="18.56" font-weight="normal" stroke="#000" stroke-width="0.75">MALL</tspan></text>
<text transform="translate(568.8,1128.5) scale(0.800,1)" text-anchor="middle" textLength="85.8" lengthAdjust="spacing" font-weight="bold" fill="#000"><tspan font-size="24.42">C</tspan><tspan font-size="18.56" font-weight="normal" stroke="#000" stroke-width="0.75">LAIMS</tspan></text>
<rect x="465.5" y="1172.5" width="207.0" height="103.0" fill="#FDFEEE" stroke="#213A5F" stroke-width="3"/>
<rect x="467.6" y="1174.7" width="202.7" height="98.7" fill="none" stroke="#FFFFFF" stroke-width="1.3"/>
<text transform="translate(569.0,1229.7) scale(0.800,1)" text-anchor="middle" textLength="237.2" lengthAdjust="spacing" font-weight="bold" fill="#000"><tspan font-size="24.42">B</tspan><tspan font-size="18.56" font-weight="normal" stroke="#000" stroke-width="0.75">RADY</tspan><tspan font-size="24.42"> C</tspan><tspan font-size="18.56" font-weight="normal" stroke="#000" stroke-width="0.75">OMPLIANCE</tspan></text>
<rect x="812.5" y="762.0" width="3.0" height="722.4" fill="#4472B8"/>
<rect x="812.5" y="833.8" width="15.5" height="3.0" fill="#4472B8"/>
<rect x="812.5" y="963.7" width="15.5" height="3.0" fill="#4472B8"/>
<rect x="812.5" y="1092.7" width="15.5" height="3.0" fill="#4472B8"/>
<rect x="812.5" y="1222.5" width="15.5" height="3.0" fill="#4472B8"/>
<rect x="812.5" y="1351.3" width="15.5" height="3.0" fill="#4472B8"/>
<rect x="812.5" y="1481.4" width="15.5" height="3.0" fill="#4472B8"/>
<rect x="827.5" y="783.8" width="207.0" height="103.0" fill="#FDFEEE" stroke="#213A5F" stroke-width="3"/>
<rect x="829.6" y="785.9" width="202.7" height="98.7" fill="none" stroke="#FFFFFF" stroke-width="1.3"/>
<text transform="translate(931.2,828.3) scale(0.800,1)" text-anchor="middle" textLength="223.6" lengthAdjust="spacing" font-weight="bold" fill="#000"><tspan font-size="24.42">A</tspan><tspan font-size="18.56" font-weight="normal" stroke="#000" stroke-width="0.75">NDREW</tspan><tspan font-size="24.42"> S</tspan><tspan font-size="18.56" font-weight="normal" stroke="#000" stroke-width="0.75">ULLIVANT</tspan></text>
<text transform="translate(931.0,855.1) scale(0.800,1)" text-anchor="middle" textLength="229.4" lengthAdjust="spacing" font-weight="bold" fill="#000"><tspan font-size="24.42">C</tspan><tspan font-size="18.56" font-weight="normal" stroke="#000" stroke-width="0.75">OURT</tspan><tspan font-size="24.42"> O</tspan><tspan font-size="18.56" font-weight="normal" stroke="#000" stroke-width="0.75">PERATIONS</tspan></text>
<line x1="837.5" y1="835.4" x2="1023.5" y2="835.4" stroke="#213A5F" stroke-width="3" stroke-linecap="round"/>
<rect x="827.5" y="913.7" width="207.0" height="103.0" fill="#FDFEEE" stroke="#213A5F" stroke-width="3"/>
<rect x="829.6" y="915.9" width="202.7" height="98.7" fill="none" stroke="#FFFFFF" stroke-width="1.3"/>
<text transform="translate(930.7,958.1) scale(0.800,1)" text-anchor="middle" textLength="192.0" lengthAdjust="spacing" font-weight="bold" fill="#000"><tspan font-size="24.42">P</tspan><tspan font-size="18.56" font-weight="normal" stroke="#000" stroke-width="0.75">UBLIC</tspan><tspan font-size="24.42"> R</tspan><tspan font-size="18.56" font-weight="normal" stroke="#000" stroke-width="0.75">ECORDS</tspan></text>
<text transform="translate(931.4,986.0) scale(0.800,1)" text-anchor="middle" textLength="46.9" lengthAdjust="spacing" font-weight="bold" fill="#000"><tspan font-size="24.42">A</tspan><tspan font-size="18.56" font-weight="normal" stroke="#000" stroke-width="0.75">CT</tspan></text>
<rect x="827.5" y="1042.7" width="207.0" height="103.0" fill="#FDFEEE" stroke="#0E1F52" stroke-width="3"/>
<rect x="829.6" y="1044.9" width="202.7" height="98.7" fill="none" stroke="#FFFFFF" stroke-width="1.3"/>
<text transform="translate(930.9,1087.5) scale(0.800,1)" text-anchor="middle" textLength="183.8" lengthAdjust="spacing" font-weight="bold" fill="#000"><tspan font-size="24.42">T</tspan><tspan font-size="18.56" font-weight="normal" stroke="#000" stroke-width="0.75">AYLOR</tspan><tspan font-size="24.42"> W</tspan><tspan font-size="18.56" font-weight="normal" stroke="#000" stroke-width="0.75">ATERS</tspan></text>
<text transform="translate(931.1,1114.9) scale(0.800,1)" text-anchor="middle" textLength="182.1" lengthAdjust="spacing" font-weight="bold" fill="#000"><tspan font-size="24.42">M</tspan><tspan font-size="18.56" font-weight="normal" stroke="#000" stroke-width="0.75">ISDEMEANORS</tspan></text>
<line x1="838.1" y1="1094.1" x2="1023.7" y2="1094.1" stroke="#0E1F52" stroke-width="3" stroke-linecap="round"/>
<rect x="827.5" y="1172.5" width="207.0" height="103.0" fill="#FDFEEE" stroke="#213A5F" stroke-width="3"/>
<rect x="829.6" y="1174.7" width="202.7" height="98.7" fill="none" stroke="#FFFFFF" stroke-width="1.3"/>
<text transform="translate(930.9,1189.0) scale(0.800,1)" text-anchor="middle" textLength="189.2" lengthAdjust="spacing" font-weight="bold" fill="#000"><tspan font-size="24.42">W</tspan><tspan font-size="18.56" font-weight="normal" stroke="#000" stroke-width="0.75">RITS</tspan><tspan font-size="24.42">/A</tspan><tspan font-size="18.56" font-weight="normal" stroke="#000" stroke-width="0.75">PPEALS</tspan><tspan font-size="24.42">/</tspan></text>
<text transform="translate(931.4,1216.4) scale(0.800,1)" text-anchor="middle" textLength="124.1" lengthAdjust="spacing" font-weight="bold" fill="#000"><tspan font-size="24.42">T</tspan><tspan font-size="18.56" font-weight="normal" stroke="#000" stroke-width="0.75">RAINING</tspan><tspan font-size="24.42">/</tspan></text>
<text transform="translate(930.6,1244.2) scale(0.800,1)" text-anchor="middle" textLength="147.9" lengthAdjust="spacing" font-weight="bold" fill="#000"><tspan font-size="24.42">C</tspan><tspan font-size="18.56" font-weight="normal" stroke="#000" stroke-width="0.75">ONVICTION</tspan></text>
<text transform="translate(930.9,1272.0) scale(0.800,1)" text-anchor="middle" textLength="106.5" lengthAdjust="spacing" font-weight="bold" fill="#000"><tspan font-size="24.42">I</tspan><tspan font-size="18.56" font-weight="normal" stroke="#000" stroke-width="0.75">NTEGRITY</tspan></text>
<rect x="827.5" y="1301.3" width="207.0" height="103.0" fill="#FDFEEE" stroke="#213A5F" stroke-width="3"/>
<rect x="829.6" y="1303.5" width="202.7" height="98.7" fill="none" stroke="#FFFFFF" stroke-width="1.3"/>
<text transform="translate(931.4,1360.3) scale(0.800,1)" text-anchor="middle" textLength="181.6" lengthAdjust="spacing" font-weight="bold" fill="#000"><tspan font-size="24.42">M</tspan><tspan font-size="18.56" font-weight="normal" stroke="#000" stroke-width="0.75">ENTAL</tspan><tspan font-size="24.42"> H</tspan><tspan font-size="18.56" font-weight="normal" stroke="#000" stroke-width="0.75">EALTH</tspan></text>
<rect x="827.5" y="1431.4" width="207.0" height="103.0" fill="#FDFEEE" stroke="#213A5F" stroke-width="3"/>
<rect x="829.6" y="1433.6" width="202.7" height="98.7" fill="none" stroke="#FFFFFF" stroke-width="1.3"/>
<text transform="translate(930.2,1490.6) scale(0.800,1)" text-anchor="middle" textLength="171.1" lengthAdjust="spacing" font-weight="bold" fill="#000"><tspan font-size="24.42">D</tspan><tspan font-size="18.56" font-weight="normal" stroke="#000" stroke-width="0.75">IGITAL</tspan><tspan font-size="24.42"> M</tspan><tspan font-size="18.56" font-weight="normal" stroke="#000" stroke-width="0.75">EDIA</tspan></text>
<rect x="1174.5" y="762.0" width="3.0" height="333.7" fill="#4472B8"/>
<rect x="1174.5" y="833.8" width="15.5" height="3.0" fill="#4472B8"/>
<rect x="1174.5" y="963.7" width="15.5" height="3.0" fill="#4472B8"/>
<rect x="1174.5" y="1092.7" width="15.5" height="3.0" fill="#4472B8"/>
<rect x="1189.5" y="783.8" width="207.0" height="103.0" fill="#FDFEEE" stroke="#213A5F" stroke-width="3"/>
<rect x="1191.7" y="785.9" width="202.7" height="98.7" fill="none" stroke="#FFFFFF" stroke-width="1.3"/>
<text transform="translate(1292.9,828.3) scale(0.800,1)" text-anchor="middle" textLength="192.5" lengthAdjust="spacing" font-weight="bold" fill="#000"><tspan font-size="24.42">M</tspan><tspan font-size="18.56" font-weight="normal" stroke="#000" stroke-width="0.75">ELISSA</tspan><tspan font-size="24.42"> S</tspan><tspan font-size="18.56" font-weight="normal" stroke="#000" stroke-width="0.75">UTTNER</tspan></text>
<text transform="translate(1293.2,855.1) scale(0.800,1)" text-anchor="middle" textLength="187.8" lengthAdjust="spacing" font-weight="bold" fill="#000"><tspan font-size="24.42">S</tspan><tspan font-size="18.56" font-weight="normal" stroke="#000" stroke-width="0.75">EXUAL</tspan><tspan font-size="24.42"> A</tspan><tspan font-size="18.56" font-weight="normal" stroke="#000" stroke-width="0.75">SSAULT</tspan></text>
<line x1="1200.2" y1="835.4" x2="1385.6" y2="835.4" stroke="#213A5F" stroke-width="3" stroke-linecap="round"/>
<rect x="1189.5" y="913.7" width="207.0" height="103.0" fill="#FDFEEE" stroke="#213A5F" stroke-width="3"/>
<rect x="1191.7" y="915.9" width="202.7" height="98.7" fill="none" stroke="#FFFFFF" stroke-width="1.3"/>
<text transform="translate(1293.1,957.7) scale(0.800,1)" text-anchor="middle" textLength="232.8" lengthAdjust="spacing" font-weight="bold" fill="#000"><tspan font-size="24.42">M</tspan><tspan font-size="18.56" font-weight="normal" stroke="#000" stroke-width="0.75">ELISSA</tspan><tspan font-size="24.42"> M</tspan><tspan font-size="18.56" font-weight="normal" stroke="#000" stroke-width="0.75">C</tspan><tspan font-size="24.42">M</tspan><tspan font-size="18.56" font-weight="normal" stroke="#000" stroke-width="0.75">URDO</tspan></text>
<text transform="translate(1296.6,985.8) scale(0.800,1)" text-anchor="middle" textLength="238.0" lengthAdjust="spacing" font-weight="bold" fill="#000"><tspan font-size="24.42">D</tspan><tspan font-size="18.56" font-weight="normal" stroke="#000" stroke-width="0.75">OMESTIC</tspan><tspan font-size="24.42"> V</tspan><tspan font-size="18.56" font-weight="normal" stroke="#000" stroke-width="0.75">IOLENCE</tspan></text>
<line x1="1200.0" y1="964.2" x2="1386.0" y2="964.2" stroke="#213A5F" stroke-width="3" stroke-linecap="round"/>
<rect x="1189.5" y="1042.7" width="207.0" height="103.0" fill="#FDFEEE" stroke="#213A5F" stroke-width="3"/>
<rect x="1191.7" y="1044.9" width="202.7" height="98.7" fill="none" stroke="#FFFFFF" stroke-width="1.3"/>
<text transform="translate(1293.6,1086.9) scale(0.800,1)" text-anchor="middle" textLength="196.6" lengthAdjust="spacing" font-weight="bold" fill="#000"><tspan font-size="24.42">M</tspan><tspan font-size="18.56" font-weight="normal" stroke="#000" stroke-width="0.75">ARLENA</tspan><tspan font-size="24.42"> T</tspan><tspan font-size="18.56" font-weight="normal" stroke="#000" stroke-width="0.75">OVAR</tspan></text>
<text transform="translate(1294.0,1114.9) scale(0.800,1)" text-anchor="middle" textLength="246.9" lengthAdjust="spacing" font-weight="bold" fill="#000"><tspan font-size="24.42">L</tspan><tspan font-size="18.56" font-weight="normal" stroke="#000" stroke-width="0.75">EGAL</tspan><tspan font-size="24.42"> S</tspan><tspan font-size="18.56" font-weight="normal" stroke="#000" stroke-width="0.75">UPPORT</tspan><tspan font-size="24.42"> S</tspan><tspan font-size="18.56" font-weight="normal" stroke="#000" stroke-width="0.75">TAFF</tspan></text>
<line x1="1200.0" y1="1094.3" x2="1386.0" y2="1094.3" stroke="#213A5F" stroke-width="3" stroke-linecap="round"/>
<rect x="1536.5" y="762.0" width="3.0" height="77.0" fill="#4472B8"/>
<rect x="1536.5" y="836.0" width="15.5" height="3.0" fill="#4472B8"/>
<rect x="1653.5" y="888.0" width="3.0" height="16.0" fill="#4472B8"/>
<rect x="1536.5" y="900.7" width="120.0" height="3.0" fill="#4472B8"/>
<rect x="1536.5" y="900.7" width="3.0" height="197.3" fill="#4472B8"/>
<rect x="1536.5" y="965.0" width="15.5" height="3.0" fill="#4472B8"/>
<rect x="1536.5" y="1094.9" width="15.5" height="3.0" fill="#4472B8"/>
<rect x="1551.5" y="785.8" width="207.0" height="102.9" fill="#FDFEEE" stroke="#213A5F" stroke-width="3"/>
<rect x="1553.7" y="787.9" width="202.7" height="98.6" fill="none" stroke="#FFFFFF" stroke-width="1.3"/>
<text transform="translate(1655.3,802.1) scale(0.800,1)" text-anchor="middle" textLength="213.2" lengthAdjust="spacing" font-weight="bold" fill="#000"><tspan font-size="24.42">R</tspan><tspan font-size="18.56" font-weight="normal" stroke="#000" stroke-width="0.75">ACHAEL</tspan><tspan font-size="24.42"> W</tspan><tspan font-size="18.56" font-weight="normal" stroke="#000" stroke-width="0.75">ATKINS</tspan></text>
<text transform="translate(1655.2,830.5) scale(0.800,1)" text-anchor="middle" textLength="173.5" lengthAdjust="spacing" font-weight="bold" fill="#000"><tspan font-size="24.42">F</tspan><tspan font-size="18.56" font-weight="normal" stroke="#000" stroke-width="0.75">AMILY</tspan><tspan font-size="24.42"> J</tspan><tspan font-size="18.56" font-weight="normal" stroke="#000" stroke-width="0.75">USTICE</tspan></text>
<text transform="translate(1654.4,857.6) scale(0.800,1)" text-anchor="middle" textLength="194.7" lengthAdjust="spacing" font-weight="bold" fill="#000"><tspan font-size="24.42">C</tspan><tspan font-size="18.56" font-weight="normal" stroke="#000" stroke-width="0.75">ENTER</tspan><tspan font-size="24.42"> / V</tspan><tspan font-size="18.56" font-weight="normal" stroke="#000" stroke-width="0.75">ICTIM</tspan></text>
<text transform="translate(1655.1,885.4) scale(0.800,1)" text-anchor="middle" textLength="102.1" lengthAdjust="spacing" font-weight="bold" fill="#000"><tspan font-size="24.42">S</tspan><tspan font-size="18.56" font-weight="normal" stroke="#000" stroke-width="0.75">ERVICES</tspan></text>
<line x1="1561.7" y1="809.2" x2="1747.8" y2="809.2" stroke="#213A5F" stroke-width="3" stroke-linecap="round"/>
<rect x="1551.5" y="916.1" width="207.0" height="101.7" fill="#FDFEEE" stroke="#213A5F" stroke-width="3"/>
<rect x="1553.7" y="918.2" width="202.7" height="97.4" fill="none" stroke="#FFFFFF" stroke-width="1.3"/>
<text transform="translate(1655.3,944.9) scale(0.800,1)" text-anchor="middle" textLength="209.4" lengthAdjust="spacing" font-weight="bold" fill="#000"><tspan font-size="24.42">B</tspan><tspan font-size="18.56" font-weight="normal" stroke="#000" stroke-width="0.75">RENDA</tspan><tspan font-size="24.42"> M</tspan><tspan font-size="18.56" font-weight="normal" stroke="#000" stroke-width="0.75">ARQUEZ</tspan></text>
<text transform="translate(1655.0,973.0) scale(0.800,1)" text-anchor="middle" textLength="180.6" lengthAdjust="spacing" font-weight="bold" fill="#000"><tspan font-size="24.42">C</tspan><tspan font-size="18.56" font-weight="normal" stroke="#000" stroke-width="0.75">RIME</tspan><tspan font-size="24.42"> V</tspan><tspan font-size="18.56" font-weight="normal" stroke="#000" stroke-width="0.75">ICTIMS</tspan><tspan font-size="24.42">’</tspan></text>
<text transform="translate(1654.8,1000.2) scale(0.800,1)" text-anchor="middle" textLength="134.4" lengthAdjust="spacing" font-weight="bold" fill="#000"><tspan font-size="24.42">A</tspan><tspan font-size="18.56" font-weight="normal" stroke="#000" stroke-width="0.75">SSISTANCE</tspan></text>
<line x1="1561.8" y1="953.3" x2="1747.7" y2="953.3" stroke="#213A5F" stroke-width="3" stroke-linecap="round"/>
<rect x="1551.5" y="1044.6" width="207.0" height="101.7" fill="#FDFEEE" stroke="#213A5F" stroke-width="3"/>
<rect x="1553.7" y="1046.8" width="202.7" height="97.4" fill="none" stroke="#FFFFFF" stroke-width="1.3"/>
<text transform="translate(1655.0,1075.4) scale(0.800,1)" text-anchor="middle" textLength="173.6" lengthAdjust="spacing" font-weight="bold" fill="#000"><tspan font-size="24.42">M</tspan><tspan font-size="18.56" font-weight="normal" stroke="#000" stroke-width="0.75">ONICA</tspan><tspan font-size="24.42"> V</tspan><tspan font-size="18.56" font-weight="normal" stroke="#000" stroke-width="0.75">ILLA</tspan></text>
<text transform="translate(1654.8,1102.0) scale(0.800,1)" text-anchor="middle" textLength="176.5" lengthAdjust="spacing" font-weight="bold" fill="#000"><tspan font-size="24.42">S</tspan><tspan font-size="18.56" font-weight="normal" stroke="#000" stroke-width="0.75">AFE</tspan><tspan font-size="24.42"> H</tspan><tspan font-size="18.56" font-weight="normal" stroke="#000" stroke-width="0.75">ARBOR</tspan><tspan font-size="24.42"> /</tspan></text>
<text transform="translate(1655.1,1130.1) scale(0.966,1)" text-anchor="middle" textLength="62.4" lengthAdjust="spacing" font-weight="bold" fill="#000"><tspan font-size="24.42">MDIC</tspan></text>
<line x1="1561.8" y1="1082.4" x2="1747.7" y2="1082.4" stroke="#213A5F" stroke-width="3" stroke-linecap="round"/>
<rect x="1898.5" y="762.0" width="3.0" height="460.0" fill="#4472B8"/>
<rect x="1898.5" y="836.0" width="15.5" height="3.0" fill="#4472B8"/>
<rect x="1898.5" y="963.5" width="15.5" height="3.0" fill="#4472B8"/>
<rect x="1898.5" y="1092.5" width="15.5" height="3.0" fill="#4472B8"/>
<rect x="1898.5" y="1218.8" width="15.5" height="3.0" fill="#4472B8"/>
<rect x="1913.5" y="786.5" width="207.0" height="102.0" fill="#FDFEEE" stroke="#213A5F" stroke-width="3"/>
<rect x="1915.7" y="788.6" width="202.7" height="97.7" fill="none" stroke="#FFFFFF" stroke-width="1.3"/>
<text transform="translate(2016.7,816.6) scale(0.800,1)" text-anchor="middle" textLength="185.0" lengthAdjust="spacing" font-weight="bold" fill="#000"><tspan font-size="24.42">G</tspan><tspan font-size="18.56" font-weight="normal" stroke="#000" stroke-width="0.75">ENE</tspan><tspan font-size="24.42"> M</tspan><tspan font-size="18.56" font-weight="normal" stroke="#000" stroke-width="0.75">ECAGNI</tspan></text>
<text transform="translate(2016.7,844.7) scale(0.800,1)" text-anchor="middle" textLength="154.3" lengthAdjust="spacing" font-weight="bold" fill="#000"><tspan font-size="24.42">I</tspan><tspan font-size="18.56" font-weight="normal" stroke="#000" stroke-width="0.75">NFORMATION</tspan></text>
<text transform="translate(2016.0,871.5) scale(0.800,1)" text-anchor="middle" textLength="156.1" lengthAdjust="spacing" font-weight="bold" fill="#000"><tspan font-size="24.42">T</tspan><tspan font-size="18.56" font-weight="normal" stroke="#000" stroke-width="0.75">ECHNOLOGY</tspan></text>
<line x1="1924.1" y1="824.3" x2="2110.2" y2="824.3" stroke="#213A5F" stroke-width="3" stroke-linecap="round"/>
<rect x="1913.5" y="914.5" width="207.0" height="101.5" fill="#FDFEEE" stroke="#213A5F" stroke-width="3"/>
<rect x="1915.7" y="916.6" width="202.7" height="97.2" fill="none" stroke="#FFFFFF" stroke-width="1.3"/>
<text transform="translate(2016.3,958.1) scale(0.800,1)" text-anchor="middle" textLength="191.3" lengthAdjust="spacing" font-weight="bold" fill="#000"><tspan font-size="24.42">T</tspan><tspan font-size="18.56" font-weight="normal" stroke="#000" stroke-width="0.75">ERRI</tspan><tspan font-size="24.42"> A</tspan><tspan font-size="18.56" font-weight="normal" stroke="#000" stroke-width="0.75">NDERSON</tspan></text>
<text transform="translate(2016.8,986.1) scale(0.800,1)" text-anchor="middle" textLength="222.9" lengthAdjust="spacing" font-weight="bold" fill="#000"><tspan font-size="24.42">H</tspan><tspan font-size="18.56" font-weight="normal" stroke="#000" stroke-width="0.75">UMAN</tspan><tspan font-size="24.42"> R</tspan><tspan font-size="18.56" font-weight="normal" stroke="#000" stroke-width="0.75">ESOURCES</tspan></text>
<line x1="1923.6" y1="964.2" x2="2110.1" y2="964.2" stroke="#213A5F" stroke-width="3" stroke-linecap="round"/>
<rect x="1913.5" y="1042.9" width="207.0" height="101.8" fill="#FDFEEE" stroke="#213A5F" stroke-width="3"/>
<rect x="1915.7" y="1045.1" width="202.7" height="97.5" fill="none" stroke="#FFFFFF" stroke-width="1.3"/>
<text transform="translate(2017.2,1087.2) scale(0.800,1)" text-anchor="middle" textLength="187.1" lengthAdjust="spacing" font-weight="bold" fill="#000"><tspan font-size="24.42">D</tspan><tspan font-size="18.56" font-weight="normal" stroke="#000" stroke-width="0.75">EREK</tspan><tspan font-size="24.42"> F</tspan><tspan font-size="18.56" font-weight="normal" stroke="#000" stroke-width="0.75">OUARGE</tspan></text>
<text transform="translate(2017.6,1114.5) scale(0.800,1)" text-anchor="middle" textLength="158.0" lengthAdjust="spacing" font-weight="bold" fill="#000"><tspan font-size="24.42">A</tspan><tspan font-size="18.56" font-weight="normal" stroke="#000" stroke-width="0.75">CCOUNTING</tspan></text>
<line x1="1923.6" y1="1094.8" x2="2110.1" y2="1094.8" stroke="#213A5F" stroke-width="3" stroke-linecap="round"/>
<rect x="1915.8" y="1169.3" width="206.4" height="102.3" fill="#FDFEEE" stroke="#213A5F" stroke-width="3"/>
<rect x="1918.0" y="1171.5" width="202.1" height="98.0" fill="none" stroke="#FFFFFF" stroke-width="1.3"/>
<text transform="translate(2018.7,1213.6) scale(0.800,1)" text-anchor="middle" textLength="134.0" lengthAdjust="spacing" font-weight="bold" fill="#000"><tspan font-size="24.42">J</tspan><tspan font-size="18.56" font-weight="normal" stroke="#000" stroke-width="0.75">ENNI</tspan><tspan font-size="24.42"> C</tspan><tspan font-size="18.56" font-weight="normal" stroke="#000" stroke-width="0.75">AIN</tspan></text>
<text transform="translate(2018.5,1240.8) scale(0.800,1)" text-anchor="middle" textLength="92.4" lengthAdjust="spacing" font-weight="bold" fill="#000"><tspan font-size="24.42">G</tspan><tspan font-size="18.56" font-weight="normal" stroke="#000" stroke-width="0.75">RANTS</tspan></text>
<line x1="1925.5" y1="1220.3" x2="2111.5" y2="1220.3" stroke="#213A5F" stroke-width="3" stroke-linecap="round"/>
<rect x="2507.0" y="749.0" width="3.0" height="36.0" fill="#4472B8"/>
<rect x="2507.0" y="759.0" width="235.5" height="3.0" fill="#4472B8"/>
<rect x="2739.7" y="759.0" width="3.0" height="26.0" fill="#4472B8"/>
<rect x="2405.1" y="784.5" width="205.5" height="101.7" fill="#FCFEFB" stroke="#213A5F" stroke-width="3"/>
<rect x="2410.8" y="790.2" width="194.1" height="90.3" fill="#FDFEEE" stroke="#213A5F" stroke-width="3"/>
<rect x="2412.9" y="792.3" width="189.9" height="86.1" fill="none" stroke="#FFFFFF" stroke-width="1.2"/>
<text transform="translate(2508.1,828.4) scale(0.800,1)" text-anchor="middle" textLength="211.4" lengthAdjust="spacing" font-weight="bold" fill="#000"><tspan font-size="24.42">C</tspan><tspan font-size="18.56" font-weight="normal" stroke="#000" stroke-width="0.75">LOYCE</tspan><tspan font-size="24.42"> C</tspan><tspan font-size="18.56" font-weight="normal" stroke="#000" stroke-width="0.75">ONWAY</tspan></text>
<line x1="2415.3" y1="835.2" x2="2601.4" y2="835.2" stroke="#213A5F" stroke-width="3" stroke-linecap="round"/>
<text transform="translate(2508.8,856.1) scale(0.800,1)" text-anchor="middle" textLength="157.5" lengthAdjust="spacing" font-weight="bold" fill="#000"><tspan font-size="24.42">D</tspan><tspan font-size="18.56" font-weight="normal" stroke="#000" stroke-width="0.75">EPUTY</tspan><tspan font-size="24.42"> C</tspan><tspan font-size="18.56" font-weight="normal" stroke="#000" stroke-width="0.75">HIEF</tspan></text>
<rect x="2637.9" y="784.5" width="206.0" height="101.7" fill="#FDFEEE" stroke="#213A5F" stroke-width="3"/>
<rect x="2640.1" y="786.6" width="201.7" height="97.4" fill="none" stroke="#FFFFFF" stroke-width="1.3"/>
<text transform="translate(2741.2,814.6) scale(0.800,1)" text-anchor="middle" textLength="157.5" lengthAdjust="spacing" font-weight="bold" fill="#000"><tspan font-size="24.42">J</tspan><tspan font-size="18.56" font-weight="normal" stroke="#000" stroke-width="0.75">OEY</tspan><tspan font-size="24.42"> B</tspan><tspan font-size="18.56" font-weight="normal" stroke="#000" stroke-width="0.75">UTTITTA</tspan></text>
<text transform="translate(2741.1,842.9) scale(0.800,1)" text-anchor="middle" textLength="218.6" lengthAdjust="spacing" font-weight="bold" fill="#000"><tspan font-size="24.42">C</tspan><tspan font-size="18.56" font-weight="normal" stroke="#000" stroke-width="0.75">OMMUNICATIONS</tspan></text>
<text transform="translate(2741.1,869.6) scale(0.800,1)" text-anchor="middle" textLength="180.2" lengthAdjust="spacing" font-weight="bold" fill="#000"><tspan font-size="24.42">M</tspan><tspan font-size="18.56" font-weight="normal" stroke="#000" stroke-width="0.75">ANAGER</tspan><tspan font-size="24.42">/PIO</tspan></text>
<line x1="2648.0" y1="821.3" x2="2834.1" y2="821.3" stroke="#213A5F" stroke-width="3" stroke-linecap="round"/>
<rect x="2507.0" y="886.0" width="3.0" height="28.0" fill="#4472B8"/>
<rect x="2274.0" y="899.2" width="468.5" height="3.0" fill="#4472B8"/>
<rect x="2274.2" y="899.0" width="3.0" height="15.0" fill="#4472B8"/>
<rect x="2739.7" y="899.0" width="3.0" height="15.0" fill="#4472B8"/>
<rect x="2173.0" y="914.1" width="205.5" height="101.0" fill="#FCFEFB" stroke="#213A5F" stroke-width="3"/>
<rect x="2178.7" y="919.8" width="194.1" height="89.6" fill="#FDFEEE" stroke="#213A5F" stroke-width="3"/>
<rect x="2180.8" y="921.9" width="189.9" height="85.4" fill="none" stroke="#FFFFFF" stroke-width="1.2"/>
<rect x="2405.1" y="914.1" width="205.5" height="101.0" fill="#FCFEFB" stroke="#213A5F" stroke-width="3"/>
<rect x="2410.8" y="919.8" width="194.1" height="89.6" fill="#FDFEEE" stroke="#213A5F" stroke-width="3"/>
<rect x="2412.9" y="921.9" width="189.9" height="85.4" fill="none" stroke="#FFFFFF" stroke-width="1.2"/>
<rect x="2637.9" y="914.1" width="206.0" height="101.0" fill="#FCFEFB" stroke="#213A5F" stroke-width="3"/>
<rect x="2643.6" y="919.8" width="194.6" height="89.6" fill="#FDFEEE" stroke="#213A5F" stroke-width="3"/>
<rect x="2645.7" y="921.9" width="190.4" height="85.4" fill="none" stroke="#FFFFFF" stroke-width="1.2"/>
<text transform="translate(2278.8,957.5) scale(0.800,1)" text-anchor="middle" textLength="216.0" lengthAdjust="spacing" font-weight="bold" fill="#000"><tspan font-size="24.42">C</tspan><tspan font-size="18.56" font-weight="normal" stroke="#000" stroke-width="0.75">HRIS</tspan><tspan font-size="24.42"> B</tspan><tspan font-size="18.56" font-weight="normal" stroke="#000" stroke-width="0.75">RACKPOOL</tspan></text>
<line x1="2182.9" y1="964.3" x2="2368.3" y2="964.3" stroke="#213A5F" stroke-width="3" stroke-linecap="round"/>
<text transform="translate(2275.2,985.8) scale(0.800,1)" text-anchor="middle" textLength="155.6" lengthAdjust="spacing" font-weight="bold" fill="#000"><tspan font-size="24.42">C</tspan><tspan font-size="18.56" font-weight="normal" stroke="#000" stroke-width="0.75">OMMANDER</tspan></text>
<text transform="translate(2508.4,956.6) scale(0.800,1)" text-anchor="middle" textLength="228.6" lengthAdjust="spacing" font-weight="bold" fill="#000"><tspan font-size="24.42">C</tspan><tspan font-size="18.56" font-weight="normal" stroke="#000" stroke-width="0.75">ORINA</tspan><tspan font-size="24.42"> W</tspan><tspan font-size="18.56" font-weight="normal" stroke="#000" stroke-width="0.75">ONDOLOSKI</tspan></text>
<line x1="2415.3" y1="962.8" x2="2601.4" y2="962.8" stroke="#213A5F" stroke-width="3" stroke-linecap="round"/>
<text transform="translate(2508.2,983.7) scale(0.800,1)" text-anchor="middle" textLength="156.0" lengthAdjust="spacing" font-weight="bold" fill="#000"><tspan font-size="24.42">C</tspan><tspan font-size="18.56" font-weight="normal" stroke="#000" stroke-width="0.75">OMMANDER</tspan></text>
<text transform="translate(2740.0,957.5) scale(0.800,1)" text-anchor="middle" textLength="176.0" lengthAdjust="spacing" font-weight="bold" fill="#000"><tspan font-size="24.42">T</tspan><tspan font-size="18.56" font-weight="normal" stroke="#000" stroke-width="0.75">RACY</tspan><tspan font-size="24.42"> T</tspan><tspan font-size="18.56" font-weight="normal" stroke="#000" stroke-width="0.75">OWNER</tspan></text>
<line x1="2648.0" y1="964.3" x2="2834.1" y2="964.3" stroke="#213A5F" stroke-width="3" stroke-linecap="round"/>
<text transform="translate(2740.8,985.8) scale(0.800,1)" text-anchor="middle" textLength="156.4" lengthAdjust="spacing" font-weight="bold" fill="#000"><tspan font-size="24.42">C</tspan><tspan font-size="18.56" font-weight="normal" stroke="#000" stroke-width="0.75">OMMANDER</tspan></text>
<rect x="2274.2" y="1015.0" width="3.0" height="16.0" fill="#4472B8"/>
<rect x="2158.0" y="1028.0" width="119.2" height="3.0" fill="#4472B8"/>
<rect x="2158.0" y="1028.0" width="3.0" height="455.2" fill="#4472B8"/>
<rect x="2158.0" y="1092.3" width="15.5" height="3.0" fill="#4472B8"/>
<rect x="2158.0" y="1221.4" width="15.5" height="3.0" fill="#4472B8"/>
<rect x="2158.0" y="1351.1" width="15.5" height="3.0" fill="#4472B8"/>
<rect x="2158.0" y="1480.2" width="15.5" height="3.0" fill="#4472B8"/>
<rect x="2506.5" y="1015.0" width="3.0" height="16.0" fill="#4472B8"/>
<rect x="2389.9" y="1028.0" width="119.6" height="3.0" fill="#4472B8"/>
<rect x="2389.9" y="1028.0" width="3.0" height="584.8" fill="#4472B8"/>
<rect x="2389.9" y="1092.3" width="15.5" height="3.0" fill="#4472B8"/>
<rect x="2389.9" y="1221.4" width="15.5" height="3.0" fill="#4472B8"/>
<rect x="2389.9" y="1351.1" width="15.5" height="3.0" fill="#4472B8"/>
<rect x="2389.9" y="1480.2" width="15.5" height="3.0" fill="#4472B8"/>
<rect x="2389.9" y="1609.8" width="15.5" height="3.0" fill="#4472B8"/>
<rect x="2739.5" y="1015.0" width="3.0" height="16.0" fill="#4472B8"/>
<rect x="2622.5" y="1028.0" width="120.0" height="3.0" fill="#4472B8"/>
<rect x="2622.5" y="1028.0" width="3.0" height="196.4" fill="#4472B8"/>
<rect x="2622.5" y="1092.3" width="15.5" height="3.0" fill="#4472B8"/>
<rect x="2622.5" y="1221.4" width="15.5" height="3.0" fill="#4472B8"/>
<rect x="2172.8" y="1043.3" width="206.0" height="101.0" fill="#FDFEEE" stroke="#213A5F" stroke-width="3"/>
<rect x="2175.0" y="1045.5" width="201.7" height="96.7" fill="none" stroke="#FFFFFF" stroke-width="1.3"/>
<text transform="translate(2275.6,1101.6) scale(0.800,1)" text-anchor="middle" textLength="227.6" lengthAdjust="spacing" font-weight="bold" fill="#000"><tspan font-size="24.42">T</tspan><tspan font-size="18.56" font-weight="normal" stroke="#000" stroke-width="0.75">HREAT</tspan><tspan font-size="24.42"> A</tspan><tspan font-size="18.56" font-weight="normal" stroke="#000" stroke-width="0.75">SSESSMENT</tspan></text>
<rect x="2405.2" y="1043.3" width="206.0" height="101.0" fill="#FDFEEE" stroke="#213A5F" stroke-width="3"/>
<rect x="2407.3" y="1045.5" width="201.7" height="96.7" fill="none" stroke="#FFFFFF" stroke-width="1.3"/>
<text transform="translate(2508.6,1101.6) scale(0.800,1)" text-anchor="middle" textLength="241.2" lengthAdjust="spacing" font-weight="bold" fill="#000"><tspan font-size="24.42">G</tspan><tspan font-size="18.56" font-weight="normal" stroke="#000" stroke-width="0.75">OVERNMENT</tspan><tspan font-size="24.42"> F</tspan><tspan font-size="18.56" font-weight="normal" stroke="#000" stroke-width="0.75">RAUD</tspan></text>
<rect x="2637.8" y="1043.3" width="206.0" height="101.0" fill="#FDFEEE" stroke="#213A5F" stroke-width="3"/>
<rect x="2640.0" y="1045.5" width="201.7" height="96.7" fill="none" stroke="#FFFFFF" stroke-width="1.3"/>
<text transform="translate(2741.7,1101.6) scale(0.800,1)" text-anchor="middle" textLength="168.2" lengthAdjust="spacing" font-weight="bold" fill="#000"><tspan font-size="24.42">M</tspan><tspan font-size="18.56" font-weight="normal" stroke="#000" stroke-width="0.75">AJOR</tspan><tspan font-size="24.42"> F</tspan><tspan font-size="18.56" font-weight="normal" stroke="#000" stroke-width="0.75">RAUD</tspan></text>
<rect x="2172.8" y="1172.4" width="206.0" height="101.0" fill="#FDFEEE" stroke="#0E1F52" stroke-width="3"/>
<rect x="2175.0" y="1174.6" width="201.7" height="96.7" fill="none" stroke="#FFFFFF" stroke-width="1.3"/>
<text transform="translate(2275.6,1217.9) scale(0.800,1)" text-anchor="middle" textLength="211.5" lengthAdjust="spacing" font-weight="bold" fill="#000"><tspan font-size="24.42">S</tspan><tspan font-size="18.56" font-weight="normal" stroke="#000" stroke-width="0.75">PECIAL</tspan><tspan font-size="24.42"> R</tspan><tspan font-size="18.56" font-weight="normal" stroke="#000" stroke-width="0.75">ESPONSE</tspan></text>
<text transform="translate(2275.3,1246.1) scale(0.800,1)" text-anchor="middle" textLength="60.0" lengthAdjust="spacing" font-weight="bold" fill="#000"><tspan font-size="24.42">T</tspan><tspan font-size="18.56" font-weight="normal" stroke="#000" stroke-width="0.75">EAM</tspan></text>
<rect x="2405.2" y="1172.4" width="206.0" height="101.0" fill="#FDFEEE" stroke="#213A5F" stroke-width="3"/>
<rect x="2407.3" y="1174.6" width="201.7" height="96.7" fill="none" stroke="#FFFFFF" stroke-width="1.3"/>
<text transform="translate(2508.7,1216.4) scale(0.800,1)" text-anchor="middle" textLength="204.1" lengthAdjust="spacing" font-weight="bold" fill="#000"><tspan font-size="24.42">A</tspan><tspan font-size="18.56" font-weight="normal" stroke="#000" stroke-width="0.75">DMINISTRATIVE</tspan><tspan font-size="24.42"> /</tspan></text>
<text transform="translate(2507.8,1244.1) scale(0.800,1)" text-anchor="middle" textLength="107.1" lengthAdjust="spacing" font-weight="bold" fill="#000"><tspan font-size="24.42">T</tspan><tspan font-size="18.56" font-weight="normal" stroke="#000" stroke-width="0.75">RAINING</tspan></text>
<rect x="2637.8" y="1172.4" width="206.0" height="101.0" fill="#FDFEEE" stroke="#213A5F" stroke-width="3"/>
<rect x="2640.0" y="1174.6" width="201.7" height="96.7" fill="none" stroke="#FFFFFF" stroke-width="1.3"/>
<text transform="translate(2741.2,1230.3) scale(0.800,1)" text-anchor="middle" textLength="177.0" lengthAdjust="spacing" font-weight="bold" fill="#000"><tspan font-size="24.42">T</tspan><tspan font-size="18.56" font-weight="normal" stroke="#000" stroke-width="0.75">ARGET</tspan><tspan font-size="24.42"> C</tspan><tspan font-size="18.56" font-weight="normal" stroke="#000" stroke-width="0.75">RIMES</tspan></text>
<rect x="2172.8" y="1302.1" width="206.0" height="101.0" fill="#FDFEEE" stroke="#213A5F" stroke-width="3"/>
<rect x="2175.0" y="1304.2" width="201.7" height="96.7" fill="none" stroke="#FFFFFF" stroke-width="1.3"/>
<text transform="translate(2275.6,1360.4) scale(0.800,1)" text-anchor="middle" textLength="180.6" lengthAdjust="spacing" font-weight="bold" fill="#000"><tspan font-size="24.42">M</tspan><tspan font-size="18.56" font-weight="normal" stroke="#000" stroke-width="0.75">AJOR</tspan><tspan font-size="24.42"> C</tspan><tspan font-size="18.56" font-weight="normal" stroke="#000" stroke-width="0.75">RIMES</tspan></text>
<rect x="2405.2" y="1302.1" width="206.0" height="101.0" fill="#FDFEEE" stroke="#213A5F" stroke-width="3"/>
<rect x="2407.3" y="1304.2" width="201.7" height="96.7" fill="none" stroke="#FFFFFF" stroke-width="1.3"/>
<text transform="translate(2508.6,1346.6) scale(0.800,1)" text-anchor="middle" textLength="90.2" lengthAdjust="spacing" font-weight="bold" fill="#000"><tspan font-size="24.42">S</tspan><tspan font-size="18.56" font-weight="normal" stroke="#000" stroke-width="0.75">PECIAL</tspan></text>
<text transform="translate(2508.7,1373.8) scale(0.800,1)" text-anchor="middle" textLength="179.4" lengthAdjust="spacing" font-weight="bold" fill="#000"><tspan font-size="24.42">I</tspan><tspan font-size="18.56" font-weight="normal" stroke="#000" stroke-width="0.75">NVESTIGATIONS</tspan></text>
<rect x="2172.8" y="1431.2" width="206.0" height="101.0" fill="#FDFEEE" stroke="#213A5F" stroke-width="3"/>
<rect x="2175.0" y="1433.4" width="201.7" height="96.7" fill="none" stroke="#FFFFFF" stroke-width="1.3"/>
<text transform="translate(2276.4,1489.1) scale(0.800,1)" text-anchor="middle" textLength="188.6" lengthAdjust="spacing" font-weight="bold" fill="#000"><tspan font-size="24.42">S</tspan><tspan font-size="18.56" font-weight="normal" stroke="#000" stroke-width="0.75">EXUAL</tspan><tspan font-size="24.42"> A</tspan><tspan font-size="18.56" font-weight="normal" stroke="#000" stroke-width="0.75">SSAULT</tspan></text>
<rect x="2405.2" y="1431.2" width="206.0" height="101.0" fill="#FDFEEE" stroke="#213A5F" stroke-width="3"/>
<rect x="2407.3" y="1433.4" width="201.7" height="96.7" fill="none" stroke="#FFFFFF" stroke-width="1.3"/>
<text transform="translate(2508.1,1489.1) scale(0.800,1)" text-anchor="middle" textLength="131.1" lengthAdjust="spacing" font-weight="bold" fill="#000"><tspan font-size="24.42">S</tspan><tspan font-size="18.56" font-weight="normal" stroke="#000" stroke-width="0.75">UBPOENAS</tspan></text>
<rect x="2405.2" y="1560.8" width="206.0" height="101.0" fill="#FDFEEE" stroke="#213A5F" stroke-width="3"/>
<rect x="2407.3" y="1563.0" width="201.7" height="96.7" fill="none" stroke="#FFFFFF" stroke-width="1.3"/>
<text transform="translate(2508.1,1605.4) scale(0.800,1)" text-anchor="middle" textLength="240.0" lengthAdjust="spacing" font-weight="bold" fill="#000"><tspan font-size="24.42">C</tspan><tspan font-size="18.56" font-weight="normal" stroke="#000" stroke-width="0.75">OMPUTER</tspan><tspan font-size="24.42"> C</tspan><tspan font-size="18.56" font-weight="normal" stroke="#000" stroke-width="0.75">RIMES</tspan><tspan font-size="24.42"> /</tspan></text>
<text transform="translate(2508.6,1632.1) scale(0.962,1)" text-anchor="middle" textLength="59.7" lengthAdjust="spacing" font-weight="bold" fill="#000"><tspan font-size="24.42">ICAC</tspan></text>
<text x="2658.6" y="1675.6" textLength="185.5" lengthAdjust="spacingAndGlyphs" font-size="25" font-weight="normal" fill="#111">Effective 12-08-25</text>
<circle cx="452" cy="350" r="154.5" fill="#C9A24E"/>
<circle cx="452" cy="350" r="149.3" fill="#F1DDB2"/>
<circle cx="452" cy="350" r="142.4" fill="none" stroke="#C9A24E" stroke-width="13" stroke-dasharray="1.6 2.6" opacity="0.75"/>
<circle cx="452" cy="350" r="135.6" fill="#1C34A0"/>
<circle cx="452" cy="351.5" r="93" fill="#F5E4C6"/>
<circle cx="452" cy="351.5" r="92" fill="none" stroke="#8E96B8" stroke-width="1.2"/>
<circle cx="452" cy="351.5" r="92" fill="none" stroke="#FFFFFF" stroke-width="3.6" stroke-dasharray="0.8 4.5" stroke-linecap="round"/>
<defs><path id="arcTop" d="M351.97,374.57 A103,103 0 1,1 552.86,370.89"/><path id="arcBot" d="M339.29,407.43 A126.5,126.5 0 0,0 564.71,407.43"/><path id="arcRib" d="M377.76,322.98 A79,79 0 0,1 526.24,322.98"/></defs>
<text class="serif" font-weight="bold" font-size="34" fill="#fff" stroke="#fff" stroke-width="2"><textPath href="#arcTop" startOffset="0" textLength="368" lengthAdjust="spacingAndGlyphs">DISTRICT ATTORNEY</textPath></text>
<text class="serif" font-weight="bold" font-size="27" fill="#fff" stroke="#fff" stroke-width="1.8"><textPath href="#arcBot" startOffset="0" textLength="278" lengthAdjust="spacingAndGlyphs">VENTURA  COUNTY</textPath></text>
<polygon points="343.41,380.01 343.46,386.00 348.99,388.30 343.31,390.20 342.84,396.17 339.28,391.35 333.45,392.75 336.93,387.88 333.80,382.77 339.52,384.57" fill="#fff"/>
<polygon points="558.09,380.01 561.98,384.57 567.70,382.77 564.57,387.88 568.05,392.75 562.22,391.35 558.66,396.17 558.19,390.20 552.51,388.30 558.04,386.00" fill="#fff"/>
<path d="M380,283 Q452,221 524,283 L521,293 Q452,251 383,293 Z" fill="#E81A1E"/>
<path d="M384.4,298 L404.4,292 L396,312 L385,331.6 L382.4,318.2 L371.7,325 Z" fill="#E81A1E"/>
<path d="M519.6,298 L499.6,292 L508,312 L519,331.6 L521.6,318.2 L532.3,325 Z" fill="#E81A1E"/>
<path id="ribtxt" d="M393,287 Q452,251 511,287" fill="none"/>
<text class="mono" font-size="16" fill="#F2A550" text-anchor="middle"><textPath href="#ribtxt" startOffset="50%" textLength="112" lengthAdjust="spacingAndGlyphs">FIAT JUSTITIA</textPath></text>
<rect x="440.5" y="279.5" width="22.5" height="15" rx="5" fill="none" stroke="#C9A24E" stroke-width="3" stroke-linecap="round" stroke-linejoin="round"/>
<path d="M444,295 C440,305 446,315 448,322 M458,295 C462,305 456,315 455,322 M452,300 L450,314" fill="none" stroke="#C9A24E" stroke-width="3" stroke-linecap="round" stroke-linejoin="round"/>
<path d="M406,326 Q430,322 442,324 M461,324 Q476,322 498,326 M410,334 Q426,340 442,337 M461,337 Q478,340 494,334" fill="none" stroke="#C9A24E" stroke-width="3" stroke-linecap="round" stroke-linejoin="round"/>
<rect x="442" y="320.5" width="19" height="26" rx="5" fill="none" stroke="#C9A24E" stroke-width="3" stroke-linecap="round" stroke-linejoin="round"/>
<circle cx="405.5" cy="328" r="6" fill="none" stroke="#C9A24E" stroke-width="3" stroke-linecap="round" stroke-linejoin="round"/>
<circle cx="498" cy="328" r="6" fill="none" stroke="#C9A24E" stroke-width="3" stroke-linecap="round" stroke-linejoin="round"/>
<path d="M404,334 L388.5,390 M407,334 L416,390 M405.5,334 L405.5,397 M387,390 Q402,383 417,390 M387,390 Q389,406 402,406 Q415,406 417,390" fill="none" stroke="#C9A24E" stroke-width="3" stroke-linecap="round" stroke-linejoin="round"/>
<path d="M497,334 L487.5,390 M500,334 L514.5,390 M498,334 L498,397 M486,390 Q501,383 516,390 M486,390 Q488,406 501,406 Q514,406 516,390" fill="none" stroke="#C9A24E" stroke-width="3" stroke-linecap="round" stroke-linejoin="round"/>
</svg>
</body></html>
